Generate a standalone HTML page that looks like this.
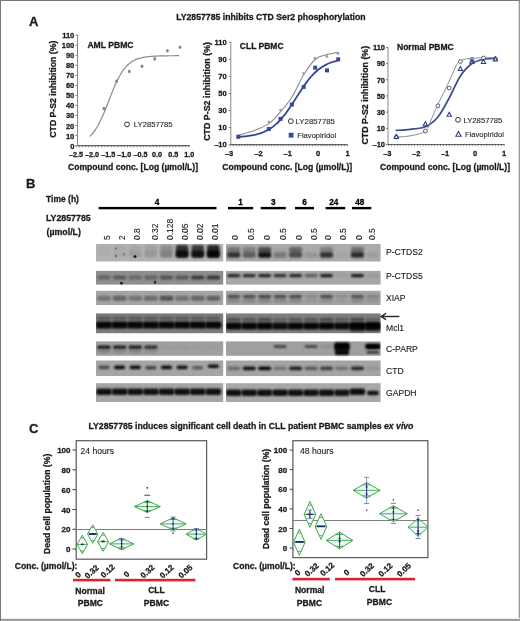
<!DOCTYPE html><html><head><meta charset="utf-8"><style>html,body{margin:0;padding:0;background:#fff;width:520px;height:621px;overflow:hidden;}svg{display:block;font-family:"Liberation Sans",sans-serif;filter:blur(0.35px);}</style></head><body><svg width="520" height="621" viewBox="0 0 520 621" font-family="Liberation Sans, sans-serif">
<defs><filter id="b1" x="-50%" y="-50%" width="200%" height="200%"><feGaussianBlur stdDeviation="1.1"/></filter><filter id="b2" x="-50%" y="-50%" width="200%" height="200%"><feGaussianBlur stdDeviation="0.95"/></filter><filter id="b3" x="-50%" y="-50%" width="200%" height="200%"><feGaussianBlur stdDeviation="0.4"/></filter></defs>
<rect x="0" y="0" width="520" height="621" fill="#fff"/>
<text x="29.10" y="26.08" font-size="13" font-weight="bold" text-anchor="start" fill="#1a1a1a" stroke="#1a1a1a" stroke-width="0.28" >A</text>
<text x="176.20" y="20.43" font-size="8.7" font-weight="bold" text-anchor="start" fill="#1a1a1a" stroke="#1a1a1a" stroke-width="0.28" >LY2857785 inhibits CTD Ser2 phosphorylation</text>
<line x1="77.50" y1="34.70" x2="77.50" y2="145.60" stroke="#8a8a8a" stroke-width="1" />
<line x1="77.50" y1="145.60" x2="190.00" y2="145.60" stroke="#606060" stroke-width="1.1" />
<line x1="75.50" y1="145.60" x2="77.50" y2="145.60" stroke="#7a7a7a" stroke-width="1" />
<text x="74.30" y="148.60" font-size="7.5" font-weight="bold" text-anchor="end" fill="#1a1a1a" stroke="#1a1a1a" stroke-width="0.28" >0</text>
<line x1="75.50" y1="135.56" x2="77.50" y2="135.56" stroke="#7a7a7a" stroke-width="1" />
<text x="74.30" y="138.56" font-size="7.5" font-weight="bold" text-anchor="end" fill="#1a1a1a" stroke="#1a1a1a" stroke-width="0.28" >10</text>
<line x1="75.50" y1="125.53" x2="77.50" y2="125.53" stroke="#7a7a7a" stroke-width="1" />
<text x="74.30" y="128.53" font-size="7.5" font-weight="bold" text-anchor="end" fill="#1a1a1a" stroke="#1a1a1a" stroke-width="0.28" >20</text>
<line x1="75.50" y1="115.49" x2="77.50" y2="115.49" stroke="#7a7a7a" stroke-width="1" />
<text x="74.30" y="118.49" font-size="7.5" font-weight="bold" text-anchor="end" fill="#1a1a1a" stroke="#1a1a1a" stroke-width="0.28" >30</text>
<line x1="75.50" y1="105.46" x2="77.50" y2="105.46" stroke="#7a7a7a" stroke-width="1" />
<text x="74.30" y="108.46" font-size="7.5" font-weight="bold" text-anchor="end" fill="#1a1a1a" stroke="#1a1a1a" stroke-width="0.28" >40</text>
<line x1="75.50" y1="95.42" x2="77.50" y2="95.42" stroke="#7a7a7a" stroke-width="1" />
<text x="74.30" y="98.42" font-size="7.5" font-weight="bold" text-anchor="end" fill="#1a1a1a" stroke="#1a1a1a" stroke-width="0.28" >50</text>
<line x1="75.50" y1="85.38" x2="77.50" y2="85.38" stroke="#7a7a7a" stroke-width="1" />
<text x="74.30" y="88.38" font-size="7.5" font-weight="bold" text-anchor="end" fill="#1a1a1a" stroke="#1a1a1a" stroke-width="0.28" >60</text>
<line x1="75.50" y1="75.35" x2="77.50" y2="75.35" stroke="#7a7a7a" stroke-width="1" />
<text x="74.30" y="78.35" font-size="7.5" font-weight="bold" text-anchor="end" fill="#1a1a1a" stroke="#1a1a1a" stroke-width="0.28" >70</text>
<line x1="75.50" y1="65.31" x2="77.50" y2="65.31" stroke="#7a7a7a" stroke-width="1" />
<text x="74.30" y="68.31" font-size="7.5" font-weight="bold" text-anchor="end" fill="#1a1a1a" stroke="#1a1a1a" stroke-width="0.28" >80</text>
<line x1="75.50" y1="55.28" x2="77.50" y2="55.28" stroke="#7a7a7a" stroke-width="1" />
<text x="74.30" y="58.28" font-size="7.5" font-weight="bold" text-anchor="end" fill="#1a1a1a" stroke="#1a1a1a" stroke-width="0.28" >90</text>
<line x1="75.50" y1="45.24" x2="77.50" y2="45.24" stroke="#7a7a7a" stroke-width="1" />
<text x="74.30" y="48.24" font-size="7.5" font-weight="bold" text-anchor="end" fill="#1a1a1a" stroke="#1a1a1a" stroke-width="0.28" >100</text>
<line x1="75.50" y1="35.20" x2="77.50" y2="35.20" stroke="#7a7a7a" stroke-width="1" />
<text x="74.30" y="38.20" font-size="7.5" font-weight="bold" text-anchor="end" fill="#1a1a1a" stroke="#1a1a1a" stroke-width="0.28" >110</text>
<line x1="76.00" y1="145.60" x2="76.00" y2="147.40" stroke="#606060" stroke-width="0.7" />
<line x1="79.22" y1="145.60" x2="79.22" y2="147.40" stroke="#606060" stroke-width="0.7" />
<line x1="82.44" y1="145.60" x2="82.44" y2="147.40" stroke="#606060" stroke-width="0.7" />
<line x1="85.66" y1="145.60" x2="85.66" y2="147.40" stroke="#606060" stroke-width="0.7" />
<line x1="88.88" y1="145.60" x2="88.88" y2="147.40" stroke="#606060" stroke-width="0.7" />
<line x1="92.10" y1="145.60" x2="92.10" y2="147.40" stroke="#606060" stroke-width="0.7" />
<line x1="95.32" y1="145.60" x2="95.32" y2="147.40" stroke="#606060" stroke-width="0.7" />
<line x1="98.54" y1="145.60" x2="98.54" y2="147.40" stroke="#606060" stroke-width="0.7" />
<line x1="101.76" y1="145.60" x2="101.76" y2="147.40" stroke="#606060" stroke-width="0.7" />
<line x1="104.98" y1="145.60" x2="104.98" y2="147.40" stroke="#606060" stroke-width="0.7" />
<line x1="108.20" y1="145.60" x2="108.20" y2="147.40" stroke="#606060" stroke-width="0.7" />
<line x1="111.42" y1="145.60" x2="111.42" y2="147.40" stroke="#606060" stroke-width="0.7" />
<line x1="114.64" y1="145.60" x2="114.64" y2="147.40" stroke="#606060" stroke-width="0.7" />
<line x1="117.86" y1="145.60" x2="117.86" y2="147.40" stroke="#606060" stroke-width="0.7" />
<line x1="121.08" y1="145.60" x2="121.08" y2="147.40" stroke="#606060" stroke-width="0.7" />
<line x1="124.30" y1="145.60" x2="124.30" y2="147.40" stroke="#606060" stroke-width="0.7" />
<line x1="127.52" y1="145.60" x2="127.52" y2="147.40" stroke="#606060" stroke-width="0.7" />
<line x1="130.74" y1="145.60" x2="130.74" y2="147.40" stroke="#606060" stroke-width="0.7" />
<line x1="133.96" y1="145.60" x2="133.96" y2="147.40" stroke="#606060" stroke-width="0.7" />
<line x1="137.18" y1="145.60" x2="137.18" y2="147.40" stroke="#606060" stroke-width="0.7" />
<line x1="140.40" y1="145.60" x2="140.40" y2="147.40" stroke="#606060" stroke-width="0.7" />
<line x1="143.62" y1="145.60" x2="143.62" y2="147.40" stroke="#606060" stroke-width="0.7" />
<line x1="146.84" y1="145.60" x2="146.84" y2="147.40" stroke="#606060" stroke-width="0.7" />
<line x1="150.06" y1="145.60" x2="150.06" y2="147.40" stroke="#606060" stroke-width="0.7" />
<line x1="153.28" y1="145.60" x2="153.28" y2="147.40" stroke="#606060" stroke-width="0.7" />
<line x1="156.50" y1="145.60" x2="156.50" y2="147.40" stroke="#606060" stroke-width="0.7" />
<line x1="159.72" y1="145.60" x2="159.72" y2="147.40" stroke="#606060" stroke-width="0.7" />
<line x1="162.94" y1="145.60" x2="162.94" y2="147.40" stroke="#606060" stroke-width="0.7" />
<line x1="166.16" y1="145.60" x2="166.16" y2="147.40" stroke="#606060" stroke-width="0.7" />
<line x1="169.38" y1="145.60" x2="169.38" y2="147.40" stroke="#606060" stroke-width="0.7" />
<line x1="172.60" y1="145.60" x2="172.60" y2="147.40" stroke="#606060" stroke-width="0.7" />
<line x1="175.82" y1="145.60" x2="175.82" y2="147.40" stroke="#606060" stroke-width="0.7" />
<line x1="179.04" y1="145.60" x2="179.04" y2="147.40" stroke="#606060" stroke-width="0.7" />
<line x1="182.26" y1="145.60" x2="182.26" y2="147.40" stroke="#606060" stroke-width="0.7" />
<line x1="185.48" y1="145.60" x2="185.48" y2="147.40" stroke="#606060" stroke-width="0.7" />
<line x1="188.70" y1="145.60" x2="188.70" y2="147.40" stroke="#606060" stroke-width="0.7" />
<text x="76.00" y="156.99" font-size="7.2" font-weight="bold" text-anchor="middle" fill="#1a1a1a" stroke="#1a1a1a" stroke-width="0.28" >–2.5</text>
<text x="92.10" y="156.99" font-size="7.2" font-weight="bold" text-anchor="middle" fill="#1a1a1a" stroke="#1a1a1a" stroke-width="0.28" >–2.0</text>
<text x="108.20" y="156.99" font-size="7.2" font-weight="bold" text-anchor="middle" fill="#1a1a1a" stroke="#1a1a1a" stroke-width="0.28" >–1.5</text>
<text x="124.30" y="156.99" font-size="7.2" font-weight="bold" text-anchor="middle" fill="#1a1a1a" stroke="#1a1a1a" stroke-width="0.28" >–1.0</text>
<text x="140.40" y="156.99" font-size="7.2" font-weight="bold" text-anchor="middle" fill="#1a1a1a" stroke="#1a1a1a" stroke-width="0.28" >–0.5</text>
<text x="157.10" y="156.99" font-size="7.2" font-weight="bold" text-anchor="middle" fill="#1a1a1a" stroke="#1a1a1a" stroke-width="0.28" >0.0</text>
<text x="173.20" y="156.99" font-size="7.2" font-weight="bold" text-anchor="middle" fill="#1a1a1a" stroke="#1a1a1a" stroke-width="0.28" >0.5</text>
<text x="189.30" y="156.99" font-size="7.2" font-weight="bold" text-anchor="middle" fill="#1a1a1a" stroke="#1a1a1a" stroke-width="0.28" >1.0</text>
<text x="133.00" y="169.90" font-size="8.6" font-weight="bold" text-anchor="middle" fill="#1a1a1a" stroke="#1a1a1a" stroke-width="0.28" >Compound conc. [Log (µmol/L)]</text>
<text transform="translate(52.60,89.20) rotate(-90)" x="0" y="3.13" font-size="8.7" font-weight="bold" text-anchor="middle" fill="#1a1a1a" stroke="#1a1a1a" stroke-width="0.28">CTD P-S2 inhibition (%)</text>
<text x="87.40" y="48.20" font-size="8.6" font-weight="bold" text-anchor="start" fill="#1a1a1a" stroke="#1a1a1a" stroke-width="0.28" >AML PBMC</text>
<path d="M90.17,136.11 C90.44,135.83 91.24,135.03 91.78,134.43 C92.31,133.82 92.85,133.18 93.39,132.49 C93.92,131.81 94.46,131.08 95.00,130.29 C95.53,129.51 96.07,128.69 96.61,127.81 C97.14,126.94 97.68,126.01 98.22,125.04 C98.75,124.06 99.29,123.04 99.83,121.97 C100.36,120.90 100.90,119.78 101.44,118.62 C101.97,117.47 102.51,116.26 103.05,115.02 C103.58,113.79 104.12,112.51 104.66,111.20 C105.19,109.90 105.73,108.56 106.27,107.22 C106.80,105.87 107.34,104.49 107.88,103.12 C108.41,101.75 108.95,100.36 109.49,98.98 C110.02,97.61 110.56,96.23 111.10,94.87 C111.63,93.52 112.17,92.17 112.71,90.86 C113.24,89.55 113.78,88.25 114.32,87.00 C114.85,85.75 115.39,84.53 115.93,83.35 C116.46,82.18 117.00,81.04 117.54,79.95 C118.07,78.87 118.61,77.82 119.15,76.83 C119.68,75.84 120.22,74.89 120.76,74.00 C121.29,73.10 121.83,72.26 122.37,71.46 C122.90,70.66 123.44,69.91 123.98,69.20 C124.51,68.49 125.05,67.84 125.59,67.22 C126.12,66.60 126.66,66.03 127.20,65.49 C127.73,64.95 128.27,64.45 128.81,63.99 C129.34,63.53 129.88,63.10 130.42,62.70 C130.95,62.30 131.49,61.94 132.03,61.60 C132.56,61.26 133.10,60.95 133.64,60.66 C134.17,60.37 134.71,60.10 135.25,59.86 C135.78,59.61 136.32,59.39 136.86,59.18 C137.39,58.97 137.93,58.79 138.47,58.61 C139.00,58.44 139.54,58.28 140.08,58.13 C140.61,57.98 141.15,57.85 141.69,57.73 C142.22,57.60 142.76,57.49 143.30,57.39 C143.83,57.29 144.37,57.19 144.91,57.11 C145.44,57.02 145.98,56.94 146.52,56.87 C147.05,56.80 147.59,56.73 148.13,56.67 C148.66,56.61 149.20,56.56 149.74,56.51 C150.27,56.45 150.81,56.41 151.35,56.37 C151.88,56.32 152.42,56.29 152.96,56.25 C153.49,56.22 154.03,56.18 154.57,56.16 C155.10,56.13 155.64,56.10 156.18,56.08 C156.71,56.05 157.25,56.03 157.79,56.01 C158.32,55.99 158.86,55.97 159.40,55.95 C159.93,55.94 160.47,55.92 161.01,55.91 C161.54,55.89 162.08,55.88 162.62,55.87 C163.15,55.86 163.69,55.85 164.23,55.84 C164.76,55.83 165.30,55.82 165.84,55.81 C166.37,55.80 166.91,55.79 167.45,55.79 C167.98,55.78 168.52,55.77 169.06,55.77 C169.59,55.76 170.13,55.76 170.67,55.75 C171.20,55.75 171.74,55.74 172.28,55.74 C172.81,55.74 173.35,55.73 173.89,55.73 C174.42,55.73 174.96,55.72 175.50,55.72 C176.03,55.72 176.57,55.72 177.11,55.71 C177.64,55.71 178.45,55.71 178.72,55.71" fill="none" stroke="#8a8a8a" stroke-width="1.2" stroke-linecap="round" />
<ellipse cx="103.90" cy="108.50" rx="1.4" ry="1.8" fill="#858585"/>
<ellipse cx="116.60" cy="81.30" rx="1.4" ry="1.8" fill="#858585"/>
<ellipse cx="129.30" cy="71.60" rx="1.4" ry="1.8" fill="#858585"/>
<ellipse cx="142.00" cy="66.30" rx="1.4" ry="1.8" fill="#858585"/>
<ellipse cx="154.70" cy="58.90" rx="1.4" ry="1.8" fill="#858585"/>
<ellipse cx="167.40" cy="50.80" rx="1.4" ry="1.8" fill="#858585"/>
<ellipse cx="180.00" cy="47.30" rx="1.4" ry="1.8" fill="#858585"/>
<circle cx="127" cy="124.4" r="2.4" fill="none" stroke="#333" stroke-width="1"/>
<text x="133.80" y="127.37" font-size="7.7" font-weight="normal" text-anchor="start" fill="#2a2a2a" stroke="#2a2a2a" stroke-width="0.12" >LY2857785</text>
<line x1="230.80" y1="41.80" x2="230.80" y2="144.60" stroke="#8a8a8a" stroke-width="1" />
<line x1="230.80" y1="144.60" x2="347.50" y2="144.60" stroke="#606060" stroke-width="1.1" />
<line x1="228.80" y1="144.60" x2="230.80" y2="144.60" stroke="#7a7a7a" stroke-width="1" />
<text x="226.70" y="147.00" font-size="7.5" font-weight="bold" text-anchor="end" fill="#1a1a1a" stroke="#1a1a1a" stroke-width="0.28" >–10</text>
<line x1="228.80" y1="127.55" x2="230.80" y2="127.55" stroke="#7a7a7a" stroke-width="1" />
<text x="226.70" y="129.95" font-size="7.5" font-weight="bold" text-anchor="end" fill="#1a1a1a" stroke="#1a1a1a" stroke-width="0.28" >10</text>
<line x1="228.80" y1="110.50" x2="230.80" y2="110.50" stroke="#7a7a7a" stroke-width="1" />
<text x="226.70" y="112.90" font-size="7.5" font-weight="bold" text-anchor="end" fill="#1a1a1a" stroke="#1a1a1a" stroke-width="0.28" >30</text>
<line x1="228.80" y1="93.45" x2="230.80" y2="93.45" stroke="#7a7a7a" stroke-width="1" />
<text x="226.70" y="95.85" font-size="7.5" font-weight="bold" text-anchor="end" fill="#1a1a1a" stroke="#1a1a1a" stroke-width="0.28" >50</text>
<line x1="228.80" y1="76.40" x2="230.80" y2="76.40" stroke="#7a7a7a" stroke-width="1" />
<text x="226.70" y="78.80" font-size="7.5" font-weight="bold" text-anchor="end" fill="#1a1a1a" stroke="#1a1a1a" stroke-width="0.28" >70</text>
<line x1="228.80" y1="59.35" x2="230.80" y2="59.35" stroke="#7a7a7a" stroke-width="1" />
<text x="226.70" y="61.75" font-size="7.5" font-weight="bold" text-anchor="end" fill="#1a1a1a" stroke="#1a1a1a" stroke-width="0.28" >90</text>
<line x1="228.80" y1="42.30" x2="230.80" y2="42.30" stroke="#7a7a7a" stroke-width="1" />
<text x="226.70" y="44.70" font-size="7.5" font-weight="bold" text-anchor="end" fill="#1a1a1a" stroke="#1a1a1a" stroke-width="0.28" >110</text>
<line x1="230.30" y1="144.60" x2="230.30" y2="146.40" stroke="#606060" stroke-width="0.7" />
<line x1="233.23" y1="144.60" x2="233.23" y2="146.40" stroke="#606060" stroke-width="0.7" />
<line x1="236.16" y1="144.60" x2="236.16" y2="146.40" stroke="#606060" stroke-width="0.7" />
<line x1="239.09" y1="144.60" x2="239.09" y2="146.40" stroke="#606060" stroke-width="0.7" />
<line x1="242.02" y1="144.60" x2="242.02" y2="146.40" stroke="#606060" stroke-width="0.7" />
<line x1="244.95" y1="144.60" x2="244.95" y2="146.40" stroke="#606060" stroke-width="0.7" />
<line x1="247.88" y1="144.60" x2="247.88" y2="146.40" stroke="#606060" stroke-width="0.7" />
<line x1="250.81" y1="144.60" x2="250.81" y2="146.40" stroke="#606060" stroke-width="0.7" />
<line x1="253.74" y1="144.60" x2="253.74" y2="146.40" stroke="#606060" stroke-width="0.7" />
<line x1="256.67" y1="144.60" x2="256.67" y2="146.40" stroke="#606060" stroke-width="0.7" />
<line x1="259.60" y1="144.60" x2="259.60" y2="146.40" stroke="#606060" stroke-width="0.7" />
<line x1="262.53" y1="144.60" x2="262.53" y2="146.40" stroke="#606060" stroke-width="0.7" />
<line x1="265.46" y1="144.60" x2="265.46" y2="146.40" stroke="#606060" stroke-width="0.7" />
<line x1="268.39" y1="144.60" x2="268.39" y2="146.40" stroke="#606060" stroke-width="0.7" />
<line x1="271.32" y1="144.60" x2="271.32" y2="146.40" stroke="#606060" stroke-width="0.7" />
<line x1="274.25" y1="144.60" x2="274.25" y2="146.40" stroke="#606060" stroke-width="0.7" />
<line x1="277.18" y1="144.60" x2="277.18" y2="146.40" stroke="#606060" stroke-width="0.7" />
<line x1="280.11" y1="144.60" x2="280.11" y2="146.40" stroke="#606060" stroke-width="0.7" />
<line x1="283.04" y1="144.60" x2="283.04" y2="146.40" stroke="#606060" stroke-width="0.7" />
<line x1="285.97" y1="144.60" x2="285.97" y2="146.40" stroke="#606060" stroke-width="0.7" />
<line x1="288.90" y1="144.60" x2="288.90" y2="146.40" stroke="#606060" stroke-width="0.7" />
<line x1="291.83" y1="144.60" x2="291.83" y2="146.40" stroke="#606060" stroke-width="0.7" />
<line x1="294.76" y1="144.60" x2="294.76" y2="146.40" stroke="#606060" stroke-width="0.7" />
<line x1="297.69" y1="144.60" x2="297.69" y2="146.40" stroke="#606060" stroke-width="0.7" />
<line x1="300.62" y1="144.60" x2="300.62" y2="146.40" stroke="#606060" stroke-width="0.7" />
<line x1="303.55" y1="144.60" x2="303.55" y2="146.40" stroke="#606060" stroke-width="0.7" />
<line x1="306.48" y1="144.60" x2="306.48" y2="146.40" stroke="#606060" stroke-width="0.7" />
<line x1="309.41" y1="144.60" x2="309.41" y2="146.40" stroke="#606060" stroke-width="0.7" />
<line x1="312.34" y1="144.60" x2="312.34" y2="146.40" stroke="#606060" stroke-width="0.7" />
<line x1="315.27" y1="144.60" x2="315.27" y2="146.40" stroke="#606060" stroke-width="0.7" />
<line x1="318.20" y1="144.60" x2="318.20" y2="146.40" stroke="#606060" stroke-width="0.7" />
<line x1="321.13" y1="144.60" x2="321.13" y2="146.40" stroke="#606060" stroke-width="0.7" />
<line x1="324.06" y1="144.60" x2="324.06" y2="146.40" stroke="#606060" stroke-width="0.7" />
<line x1="326.99" y1="144.60" x2="326.99" y2="146.40" stroke="#606060" stroke-width="0.7" />
<line x1="329.92" y1="144.60" x2="329.92" y2="146.40" stroke="#606060" stroke-width="0.7" />
<line x1="332.85" y1="144.60" x2="332.85" y2="146.40" stroke="#606060" stroke-width="0.7" />
<line x1="335.78" y1="144.60" x2="335.78" y2="146.40" stroke="#606060" stroke-width="0.7" />
<line x1="338.71" y1="144.60" x2="338.71" y2="146.40" stroke="#606060" stroke-width="0.7" />
<line x1="341.64" y1="144.60" x2="341.64" y2="146.40" stroke="#606060" stroke-width="0.7" />
<line x1="344.57" y1="144.60" x2="344.57" y2="146.40" stroke="#606060" stroke-width="0.7" />
<line x1="347.50" y1="144.60" x2="347.50" y2="146.40" stroke="#606060" stroke-width="0.7" />
<text x="229.10" y="155.70" font-size="7.5" font-weight="bold" text-anchor="middle" fill="#1a1a1a" stroke="#1a1a1a" stroke-width="0.28" >–3</text>
<text x="258.40" y="155.70" font-size="7.5" font-weight="bold" text-anchor="middle" fill="#1a1a1a" stroke="#1a1a1a" stroke-width="0.28" >–2</text>
<text x="287.70" y="155.70" font-size="7.5" font-weight="bold" text-anchor="middle" fill="#1a1a1a" stroke="#1a1a1a" stroke-width="0.28" >–1</text>
<text x="318.20" y="155.70" font-size="7.5" font-weight="bold" text-anchor="middle" fill="#1a1a1a" stroke="#1a1a1a" stroke-width="0.28" >0</text>
<text x="347.50" y="155.70" font-size="7.5" font-weight="bold" text-anchor="middle" fill="#1a1a1a" stroke="#1a1a1a" stroke-width="0.28" >1</text>
<text x="287.20" y="170.10" font-size="8.6" font-weight="bold" text-anchor="middle" fill="#1a1a1a" stroke="#1a1a1a" stroke-width="0.28" >Compound conc. [Log (µmol/L)]</text>
<text transform="translate(206.40,91.40) rotate(-90)" x="0" y="3.19" font-size="8.85" font-weight="bold" text-anchor="middle" fill="#1a1a1a" stroke="#1a1a1a" stroke-width="0.28">CTD P-S2 inhibition (%)</text>
<text x="239.80" y="49.26" font-size="8.5" font-weight="bold" text-anchor="start" fill="#1a1a1a" stroke="#1a1a1a" stroke-width="0.28" >CLL PBMC</text>
<path d="M238.30,135.10 C240.75,134.42 247.88,132.92 253.00,131.00 C258.12,129.08 264.42,126.80 269.00,123.60 C273.58,120.40 276.67,116.23 280.50,111.80 C284.33,107.37 288.15,103.13 292.00,97.00 C295.85,90.87 299.75,81.25 303.60,75.00 C307.45,68.75 311.23,62.90 315.10,59.50 C318.97,56.10 322.98,55.78 326.80,54.60 C330.62,53.42 336.13,52.77 338.00,52.40" fill="none" stroke="#8c8c8c" stroke-width="1.1" stroke-linecap="round" />
<rect x="267.80" y="120.80" width="2.4" height="2.4" fill="#9a9a9a" transform="rotate(45 269.00 122.00)"/>
<rect x="279.30" y="109.00" width="2.4" height="2.4" fill="#9a9a9a" transform="rotate(45 280.50 110.20)"/>
<rect x="302.40" y="72.20" width="2.4" height="2.4" fill="#9a9a9a" transform="rotate(45 303.60 73.40)"/>
<rect x="313.90" y="57.00" width="2.4" height="2.4" fill="#9a9a9a" transform="rotate(45 315.10 58.20)"/>
<rect x="325.60" y="55.30" width="2.4" height="2.4" fill="#9a9a9a" transform="rotate(45 326.80 56.50)"/>
<rect x="336.80" y="52.30" width="2.4" height="2.4" fill="#9a9a9a" transform="rotate(45 338.00 53.50)"/>
<path d="M238.21,136.95 C238.46,136.93 239.19,136.88 239.68,136.85 C240.16,136.81 240.65,136.78 241.14,136.74 C241.63,136.70 242.12,136.66 242.61,136.61 C243.09,136.57 243.58,136.52 244.07,136.47 C244.56,136.42 245.05,136.37 245.54,136.32 C246.02,136.26 246.51,136.20 247.00,136.14 C247.49,136.08 247.98,136.01 248.47,135.94 C248.95,135.88 249.44,135.80 249.93,135.73 C250.42,135.65 250.91,135.57 251.40,135.48 C251.88,135.40 252.37,135.31 252.86,135.21 C253.35,135.12 253.84,135.02 254.33,134.91 C254.81,134.80 255.30,134.69 255.79,134.57 C256.28,134.45 256.77,134.33 257.26,134.20 C257.74,134.07 258.23,133.93 258.72,133.78 C259.21,133.64 259.70,133.49 260.19,133.32 C260.67,133.16 261.16,132.99 261.65,132.81 C262.14,132.63 262.63,132.45 263.12,132.25 C263.60,132.05 264.09,131.84 264.58,131.63 C265.07,131.41 265.56,131.18 266.05,130.94 C266.53,130.70 267.02,130.45 267.51,130.18 C268.00,129.92 268.49,129.64 268.98,129.35 C269.46,129.07 269.95,128.76 270.44,128.45 C270.93,128.13 271.42,127.80 271.91,127.45 C272.39,127.11 272.88,126.75 273.37,126.37 C273.86,126.00 274.35,125.61 274.84,125.20 C275.32,124.79 275.81,124.37 276.30,123.93 C276.79,123.49 277.28,123.04 277.77,122.56 C278.25,122.09 278.74,121.60 279.23,121.09 C279.72,120.58 280.21,120.06 280.70,119.52 C281.18,118.98 281.67,118.42 282.16,117.85 C282.65,117.27 283.14,116.68 283.63,116.07 C284.11,115.47 284.60,114.84 285.09,114.20 C285.58,113.56 286.07,112.91 286.56,112.24 C287.04,111.58 287.53,110.89 288.02,110.20 C288.51,109.51 289.00,108.80 289.49,108.08 C289.97,107.36 290.46,106.63 290.95,105.90 C291.44,105.16 291.93,104.42 292.42,103.66 C292.90,102.91 293.39,102.15 293.88,101.39 C294.37,100.63 294.86,99.86 295.35,99.10 C295.83,98.33 296.32,97.56 296.81,96.79 C297.30,96.02 297.79,95.25 298.28,94.49 C298.76,93.73 299.25,92.97 299.74,92.21 C300.23,91.46 300.72,90.71 301.21,89.97 C301.69,89.23 302.18,88.50 302.67,87.78 C303.16,87.05 303.65,86.34 304.14,85.64 C304.62,84.95 305.11,84.26 305.60,83.58 C306.09,82.91 306.58,82.25 307.07,81.61 C307.55,80.96 308.04,80.33 308.53,79.72 C309.02,79.11 309.51,78.51 310.00,77.93 C310.48,77.34 310.97,76.78 311.46,76.23 C311.95,75.68 312.44,75.15 312.93,74.64 C313.41,74.13 313.90,73.63 314.39,73.15 C314.88,72.67 315.37,72.21 315.86,71.76 C316.34,71.31 316.83,70.88 317.32,70.47 C317.81,70.06 318.30,69.66 318.79,69.28 C319.27,68.90 319.76,68.53 320.25,68.18 C320.74,67.83 321.23,67.49 321.72,67.17 C322.20,66.85 322.69,66.54 323.18,66.25 C323.67,65.95 324.16,65.67 324.65,65.40 C325.13,65.13 325.62,64.88 326.11,64.63 C326.60,64.39 327.09,64.15 327.58,63.93 C328.06,63.71 328.55,63.50 329.04,63.30 C329.53,63.09 330.02,62.90 330.51,62.72 C330.99,62.54 331.48,62.36 331.97,62.20 C332.46,62.03 332.95,61.88 333.44,61.73 C333.92,61.58 334.41,61.44 334.90,61.31 C335.39,61.17 335.88,61.04 336.37,60.92 C336.85,60.80 337.59,60.64 337.83,60.58" fill="none" stroke="#33449a" stroke-width="1.75" stroke-linecap="round" />
<rect x="236.30" y="134.80" width="4.0" height="4.0" fill="#36479e"/>
<rect x="266.80" y="127.00" width="4.0" height="4.0" fill="#36479e"/>
<rect x="278.50" y="116.90" width="4.0" height="4.0" fill="#36479e"/>
<rect x="289.90" y="102.50" width="4.0" height="4.0" fill="#36479e"/>
<rect x="301.70" y="84.90" width="4.0" height="4.0" fill="#36479e"/>
<rect x="313.20" y="65.70" width="4.0" height="4.0" fill="#36479e"/>
<rect x="325.00" y="68.40" width="4.0" height="4.0" fill="#36479e"/>
<rect x="336.20" y="57.30" width="4.0" height="4.0" fill="#36479e"/>
<circle cx="290.8" cy="121.2" r="2.4" fill="none" stroke="#333" stroke-width="1"/>
<text x="295.60" y="124.21" font-size="7.8" font-weight="normal" text-anchor="start" fill="#2a2a2a" stroke="#2a2a2a" stroke-width="0.12" >LY2857785</text>
<rect x="288.7" y="132.8" width="4.8" height="4.8" fill="#36479e"/>
<text x="297.30" y="138.14" font-size="7.6" font-weight="normal" text-anchor="start" fill="#2a2a2a" stroke="#2a2a2a" stroke-width="0.12" >Flavopiridol</text>
<line x1="388.00" y1="46.92" x2="388.00" y2="144.50" stroke="#8a8a8a" stroke-width="1" />
<line x1="388.00" y1="144.50" x2="504.60" y2="144.50" stroke="#606060" stroke-width="1.1" />
<line x1="386.00" y1="144.50" x2="388.00" y2="144.50" stroke="#7a7a7a" stroke-width="1" />
<text x="385.00" y="147.30" font-size="7.5" font-weight="bold" text-anchor="end" fill="#1a1a1a" stroke="#1a1a1a" stroke-width="0.28" >–10</text>
<line x1="386.00" y1="128.32" x2="388.00" y2="128.32" stroke="#7a7a7a" stroke-width="1" />
<text x="385.00" y="131.12" font-size="7.5" font-weight="bold" text-anchor="end" fill="#1a1a1a" stroke="#1a1a1a" stroke-width="0.28" >10</text>
<line x1="386.00" y1="112.14" x2="388.00" y2="112.14" stroke="#7a7a7a" stroke-width="1" />
<text x="385.00" y="114.94" font-size="7.5" font-weight="bold" text-anchor="end" fill="#1a1a1a" stroke="#1a1a1a" stroke-width="0.28" >30</text>
<line x1="386.00" y1="95.96" x2="388.00" y2="95.96" stroke="#7a7a7a" stroke-width="1" />
<text x="385.00" y="98.76" font-size="7.5" font-weight="bold" text-anchor="end" fill="#1a1a1a" stroke="#1a1a1a" stroke-width="0.28" >50</text>
<line x1="386.00" y1="79.78" x2="388.00" y2="79.78" stroke="#7a7a7a" stroke-width="1" />
<text x="385.00" y="82.58" font-size="7.5" font-weight="bold" text-anchor="end" fill="#1a1a1a" stroke="#1a1a1a" stroke-width="0.28" >70</text>
<line x1="386.00" y1="63.60" x2="388.00" y2="63.60" stroke="#7a7a7a" stroke-width="1" />
<text x="385.00" y="66.40" font-size="7.5" font-weight="bold" text-anchor="end" fill="#1a1a1a" stroke="#1a1a1a" stroke-width="0.28" >90</text>
<line x1="386.00" y1="47.42" x2="388.00" y2="47.42" stroke="#7a7a7a" stroke-width="1" />
<text x="385.00" y="50.22" font-size="7.5" font-weight="bold" text-anchor="end" fill="#1a1a1a" stroke="#1a1a1a" stroke-width="0.28" >110</text>
<line x1="388.50" y1="144.50" x2="388.50" y2="146.30" stroke="#606060" stroke-width="0.7" />
<line x1="391.39" y1="144.50" x2="391.39" y2="146.30" stroke="#606060" stroke-width="0.7" />
<line x1="394.28" y1="144.50" x2="394.28" y2="146.30" stroke="#606060" stroke-width="0.7" />
<line x1="397.17" y1="144.50" x2="397.17" y2="146.30" stroke="#606060" stroke-width="0.7" />
<line x1="400.06" y1="144.50" x2="400.06" y2="146.30" stroke="#606060" stroke-width="0.7" />
<line x1="402.95" y1="144.50" x2="402.95" y2="146.30" stroke="#606060" stroke-width="0.7" />
<line x1="405.84" y1="144.50" x2="405.84" y2="146.30" stroke="#606060" stroke-width="0.7" />
<line x1="408.73" y1="144.50" x2="408.73" y2="146.30" stroke="#606060" stroke-width="0.7" />
<line x1="411.62" y1="144.50" x2="411.62" y2="146.30" stroke="#606060" stroke-width="0.7" />
<line x1="414.51" y1="144.50" x2="414.51" y2="146.30" stroke="#606060" stroke-width="0.7" />
<line x1="417.40" y1="144.50" x2="417.40" y2="146.30" stroke="#606060" stroke-width="0.7" />
<line x1="420.29" y1="144.50" x2="420.29" y2="146.30" stroke="#606060" stroke-width="0.7" />
<line x1="423.18" y1="144.50" x2="423.18" y2="146.30" stroke="#606060" stroke-width="0.7" />
<line x1="426.07" y1="144.50" x2="426.07" y2="146.30" stroke="#606060" stroke-width="0.7" />
<line x1="428.96" y1="144.50" x2="428.96" y2="146.30" stroke="#606060" stroke-width="0.7" />
<line x1="431.85" y1="144.50" x2="431.85" y2="146.30" stroke="#606060" stroke-width="0.7" />
<line x1="434.74" y1="144.50" x2="434.74" y2="146.30" stroke="#606060" stroke-width="0.7" />
<line x1="437.63" y1="144.50" x2="437.63" y2="146.30" stroke="#606060" stroke-width="0.7" />
<line x1="440.52" y1="144.50" x2="440.52" y2="146.30" stroke="#606060" stroke-width="0.7" />
<line x1="443.41" y1="144.50" x2="443.41" y2="146.30" stroke="#606060" stroke-width="0.7" />
<line x1="446.30" y1="144.50" x2="446.30" y2="146.30" stroke="#606060" stroke-width="0.7" />
<line x1="449.19" y1="144.50" x2="449.19" y2="146.30" stroke="#606060" stroke-width="0.7" />
<line x1="452.08" y1="144.50" x2="452.08" y2="146.30" stroke="#606060" stroke-width="0.7" />
<line x1="454.97" y1="144.50" x2="454.97" y2="146.30" stroke="#606060" stroke-width="0.7" />
<line x1="457.86" y1="144.50" x2="457.86" y2="146.30" stroke="#606060" stroke-width="0.7" />
<line x1="460.75" y1="144.50" x2="460.75" y2="146.30" stroke="#606060" stroke-width="0.7" />
<line x1="463.64" y1="144.50" x2="463.64" y2="146.30" stroke="#606060" stroke-width="0.7" />
<line x1="466.53" y1="144.50" x2="466.53" y2="146.30" stroke="#606060" stroke-width="0.7" />
<line x1="469.42" y1="144.50" x2="469.42" y2="146.30" stroke="#606060" stroke-width="0.7" />
<line x1="472.31" y1="144.50" x2="472.31" y2="146.30" stroke="#606060" stroke-width="0.7" />
<line x1="475.20" y1="144.50" x2="475.20" y2="146.30" stroke="#606060" stroke-width="0.7" />
<line x1="478.09" y1="144.50" x2="478.09" y2="146.30" stroke="#606060" stroke-width="0.7" />
<line x1="480.98" y1="144.50" x2="480.98" y2="146.30" stroke="#606060" stroke-width="0.7" />
<line x1="483.87" y1="144.50" x2="483.87" y2="146.30" stroke="#606060" stroke-width="0.7" />
<line x1="486.76" y1="144.50" x2="486.76" y2="146.30" stroke="#606060" stroke-width="0.7" />
<line x1="489.65" y1="144.50" x2="489.65" y2="146.30" stroke="#606060" stroke-width="0.7" />
<line x1="492.54" y1="144.50" x2="492.54" y2="146.30" stroke="#606060" stroke-width="0.7" />
<line x1="495.43" y1="144.50" x2="495.43" y2="146.30" stroke="#606060" stroke-width="0.7" />
<line x1="498.32" y1="144.50" x2="498.32" y2="146.30" stroke="#606060" stroke-width="0.7" />
<line x1="501.21" y1="144.50" x2="501.21" y2="146.30" stroke="#606060" stroke-width="0.7" />
<line x1="504.10" y1="144.50" x2="504.10" y2="146.30" stroke="#606060" stroke-width="0.7" />
<text x="387.30" y="155.70" font-size="7.5" font-weight="bold" text-anchor="middle" fill="#1a1a1a" stroke="#1a1a1a" stroke-width="0.28" >–3</text>
<text x="416.20" y="155.70" font-size="7.5" font-weight="bold" text-anchor="middle" fill="#1a1a1a" stroke="#1a1a1a" stroke-width="0.28" >–2</text>
<text x="445.10" y="155.70" font-size="7.5" font-weight="bold" text-anchor="middle" fill="#1a1a1a" stroke="#1a1a1a" stroke-width="0.28" >–1</text>
<text x="475.20" y="155.70" font-size="7.5" font-weight="bold" text-anchor="middle" fill="#1a1a1a" stroke="#1a1a1a" stroke-width="0.28" >0</text>
<text x="504.10" y="155.70" font-size="7.5" font-weight="bold" text-anchor="middle" fill="#1a1a1a" stroke="#1a1a1a" stroke-width="0.28" >1</text>
<text x="445.00" y="170.10" font-size="8.6" font-weight="bold" text-anchor="middle" fill="#1a1a1a" stroke="#1a1a1a" stroke-width="0.28" >Compound conc. [Log (µmol/L)]</text>
<text transform="translate(364.40,95.20) rotate(-90)" x="0" y="3.19" font-size="8.85" font-weight="bold" text-anchor="middle" fill="#1a1a1a" stroke="#1a1a1a" stroke-width="0.28">CTD P-S2 inhibition (%)</text>
<text x="397.00" y="50.16" font-size="8.5" font-weight="bold" text-anchor="start" fill="#1a1a1a" stroke="#1a1a1a" stroke-width="0.28" >Normal PBMC</text>
<path d="M396.30,130.40 C398.58,130.22 405.15,129.90 410.00,129.30 C414.85,128.70 420.75,128.85 425.40,126.80 C430.05,124.75 433.93,121.80 437.90,117.00 C441.87,112.20 445.45,104.83 449.20,98.00 C452.95,91.17 456.60,81.75 460.40,76.00 C464.20,70.25 468.15,66.27 472.00,63.50 C475.85,60.73 479.60,60.25 483.50,59.40 C487.40,58.55 493.42,58.57 495.40,58.40" fill="none" stroke="#3a4a90" stroke-width="1.7" stroke-linecap="round" />
<path d="M396.30,137.30 C398.92,137.00 407.15,136.55 412.00,135.50 C416.85,134.45 422.15,133.75 425.40,131.00 C428.65,128.25 429.53,123.20 431.50,119.00 C433.47,114.80 434.78,110.97 437.20,105.80 C439.62,100.63 443.53,93.13 446.00,88.00 C448.47,82.87 450.08,79.08 452.00,75.00 C453.92,70.92 455.50,66.08 457.50,63.50 C459.50,60.92 461.58,60.37 464.00,59.50 C466.42,58.63 468.75,58.58 472.00,58.30 C475.25,58.02 479.60,57.92 483.50,57.80 C487.40,57.68 493.42,57.63 495.40,57.60" fill="none" stroke="#8a8a8a" stroke-width="1.0" stroke-linecap="round" />
<circle cx="396.30" cy="137.00" r="1.9" fill="#fff" stroke="#4a4a5a" stroke-width="0.9"/>
<circle cx="425.40" cy="131.00" r="1.9" fill="#fff" stroke="#4a4a5a" stroke-width="0.9"/>
<circle cx="437.90" cy="105.80" r="1.9" fill="#fff" stroke="#4a4a5a" stroke-width="0.9"/>
<circle cx="449.20" cy="88.00" r="1.9" fill="#fff" stroke="#4a4a5a" stroke-width="0.9"/>
<circle cx="460.40" cy="61.50" r="1.9" fill="#fff" stroke="#4a4a5a" stroke-width="0.9"/>
<circle cx="472.00" cy="59.60" r="1.9" fill="#fff" stroke="#4a4a5a" stroke-width="0.9"/>
<circle cx="483.50" cy="58.00" r="1.9" fill="#fff" stroke="#4a4a5a" stroke-width="0.9"/>
<circle cx="495.40" cy="58.70" r="1.9" fill="#fff" stroke="#4a4a5a" stroke-width="0.9"/>
<path d="M396.30,134.40 L398.49,138.42 L394.12,138.42 Z" fill="none" stroke="#2e3c80" stroke-width="1.05"/>
<path d="M425.40,121.70 L427.58,125.72 L423.21,125.72 Z" fill="none" stroke="#2e3c80" stroke-width="1.05"/>
<path d="M449.20,112.30 L451.38,116.32 L447.01,116.32 Z" fill="none" stroke="#2e3c80" stroke-width="1.05"/>
<path d="M460.40,66.50 L462.58,70.52 L458.21,70.52 Z" fill="none" stroke="#2e3c80" stroke-width="1.05"/>
<path d="M472.00,59.20 L474.19,63.23 L469.81,63.23 Z" fill="none" stroke="#2e3c80" stroke-width="1.05"/>
<path d="M483.50,59.50 L485.69,63.52 L481.31,63.52 Z" fill="none" stroke="#2e3c80" stroke-width="1.05"/>
<path d="M495.40,56.90 L497.58,60.93 L493.21,60.93 Z" fill="none" stroke="#2e3c80" stroke-width="1.05"/>
<circle cx="458" cy="119.8" r="2.4" fill="none" stroke="#333" stroke-width="1"/>
<text x="463.50" y="122.77" font-size="7.7" font-weight="normal" text-anchor="start" fill="#2a2a2a" stroke="#2a2a2a" stroke-width="0.12" >LY2857785</text>
<path d="M458.50,131.40 L461.16,136.30 L455.84,136.30 Z" fill="none" stroke="#2e3c80" stroke-width="1.05"/>
<text x="465.00" y="137.14" font-size="7.6" font-weight="normal" text-anchor="start" fill="#2a2a2a" stroke="#2a2a2a" stroke-width="0.12" >Flavopiridol</text>
<text x="26.00" y="188.48" font-size="13" font-weight="bold" text-anchor="start" fill="#1a1a1a" stroke="#1a1a1a" stroke-width="0.28" >B</text>
<text x="46.00" y="201.66" font-size="8.5" font-weight="bold" text-anchor="start" fill="#1a1a1a" stroke="#1a1a1a" stroke-width="0.28" >Time (h)</text>
<text x="46.00" y="220.67" font-size="8.8" font-weight="bold" text-anchor="start" fill="#1a1a1a" stroke="#1a1a1a" stroke-width="0.28" >LY2857785</text>
<text x="46.50" y="234.97" font-size="8.8" font-weight="bold" text-anchor="start" fill="#1a1a1a" stroke="#1a1a1a" stroke-width="0.28" >(µmol/L)</text>
<rect x="98.60" y="206.9" width="117.90" height="2.4" fill="#000"/>
<text x="157.00" y="205.25" font-size="8.2" font-weight="bold" text-anchor="middle" fill="#000" stroke="#000" stroke-width="0.28" >4</text>
<rect x="228.00" y="206.9" width="25.20" height="2.4" fill="#000"/>
<text x="240.60" y="205.25" font-size="8.2" font-weight="bold" text-anchor="middle" fill="#000" stroke="#000" stroke-width="0.28" >1</text>
<rect x="260.70" y="206.9" width="25.10" height="2.4" fill="#000"/>
<text x="273.20" y="205.25" font-size="8.2" font-weight="bold" text-anchor="middle" fill="#000" stroke="#000" stroke-width="0.28" >3</text>
<rect x="295.00" y="206.9" width="19.00" height="2.4" fill="#000"/>
<text x="304.50" y="205.25" font-size="8.2" font-weight="bold" text-anchor="middle" fill="#000" stroke="#000" stroke-width="0.28" >6</text>
<rect x="325.60" y="206.9" width="19.60" height="2.4" fill="#000"/>
<text x="333.80" y="205.25" font-size="8.2" font-weight="bold" text-anchor="middle" fill="#000" stroke="#000" stroke-width="0.28" >24</text>
<rect x="352.00" y="206.9" width="19.30" height="2.4" fill="#000"/>
<text x="359.80" y="205.25" font-size="8.2" font-weight="bold" text-anchor="middle" fill="#000" stroke="#000" stroke-width="0.28" >48</text>
<text transform="translate(106.70,240.10) rotate(-90)" x="0" y="3.00" font-size="8.5" font-weight="normal" text-anchor="start" fill="#222" stroke="#222" stroke-width="0.12">5</text>
<text transform="translate(122.00,240.10) rotate(-90)" x="0" y="3.00" font-size="8.5" font-weight="normal" text-anchor="start" fill="#222" stroke="#222" stroke-width="0.12">2</text>
<text transform="translate(137.00,240.10) rotate(-90)" x="0" y="3.00" font-size="8.5" font-weight="normal" text-anchor="start" fill="#222" stroke="#222" stroke-width="0.12">0.8</text>
<text transform="translate(155.00,240.10) rotate(-90)" x="0" y="3.00" font-size="8.5" font-weight="normal" text-anchor="start" fill="#222" stroke="#222" stroke-width="0.12">0.32</text>
<text transform="translate(170.40,240.10) rotate(-90)" x="0" y="3.00" font-size="8.5" font-weight="normal" text-anchor="start" fill="#222" stroke="#222" stroke-width="0.12">0.128</text>
<text transform="translate(184.70,240.10) rotate(-90)" x="0" y="3.00" font-size="8.5" font-weight="normal" text-anchor="start" fill="#222" stroke="#222" stroke-width="0.12">0.05</text>
<text transform="translate(199.60,240.10) rotate(-90)" x="0" y="3.00" font-size="8.5" font-weight="normal" text-anchor="start" fill="#222" stroke="#222" stroke-width="0.12">0.02</text>
<text transform="translate(215.00,240.10) rotate(-90)" x="0" y="3.00" font-size="8.5" font-weight="normal" text-anchor="start" fill="#222" stroke="#222" stroke-width="0.12">0.01</text>
<text transform="translate(235.00,240.10) rotate(-90)" x="0" y="3.00" font-size="8.5" font-weight="normal" text-anchor="start" fill="#222" stroke="#222" stroke-width="0.12">0</text>
<text transform="translate(251.20,240.10) rotate(-90)" x="0" y="3.00" font-size="8.5" font-weight="normal" text-anchor="start" fill="#222" stroke="#222" stroke-width="0.12">0.5</text>
<text transform="translate(266.80,240.10) rotate(-90)" x="0" y="3.00" font-size="8.5" font-weight="normal" text-anchor="start" fill="#222" stroke="#222" stroke-width="0.12">0</text>
<text transform="translate(282.70,240.10) rotate(-90)" x="0" y="3.00" font-size="8.5" font-weight="normal" text-anchor="start" fill="#222" stroke="#222" stroke-width="0.12">0.5</text>
<text transform="translate(298.50,240.10) rotate(-90)" x="0" y="3.00" font-size="8.5" font-weight="normal" text-anchor="start" fill="#222" stroke="#222" stroke-width="0.12">0</text>
<text transform="translate(314.20,240.10) rotate(-90)" x="0" y="3.00" font-size="8.5" font-weight="normal" text-anchor="start" fill="#222" stroke="#222" stroke-width="0.12">0.5</text>
<text transform="translate(327.70,240.10) rotate(-90)" x="0" y="3.00" font-size="8.5" font-weight="normal" text-anchor="start" fill="#222" stroke="#222" stroke-width="0.12">0</text>
<text transform="translate(342.80,240.10) rotate(-90)" x="0" y="3.00" font-size="8.5" font-weight="normal" text-anchor="start" fill="#222" stroke="#222" stroke-width="0.12">0.5</text>
<text transform="translate(359.20,240.10) rotate(-90)" x="0" y="3.00" font-size="8.5" font-weight="normal" text-anchor="start" fill="#222" stroke="#222" stroke-width="0.12">0</text>
<text transform="translate(372.20,240.10) rotate(-90)" x="0" y="3.00" font-size="8.5" font-weight="normal" text-anchor="start" fill="#222" stroke="#222" stroke-width="0.12">0.5</text>
<clipPath id="cl"><rect x="96" y="240" width="127.2" height="165"/><rect x="226" y="240" width="154.6" height="165"/></clipPath>
<rect x="96.0" y="244.0" width="127.20" height="17.50" fill="#b3b3b3"/>
<rect x="226.0" y="244.0" width="154.60" height="17.50" fill="#ababab"/>
<text x="386.00" y="255.40" font-size="8.6" font-weight="normal" text-anchor="start" fill="#1a1a1a" stroke="#1a1a1a" stroke-width="0.12" >P-CTDS2</text>
<rect x="96.0" y="270.9" width="127.20" height="13.70" fill="#8e8e8e"/>
<rect x="226.0" y="270.9" width="154.60" height="13.70" fill="#a6a6a6"/>
<text x="386.00" y="279.20" font-size="8.6" font-weight="normal" text-anchor="start" fill="#1a1a1a" stroke="#1a1a1a" stroke-width="0.12" >P-CTDS5</text>
<rect x="96.0" y="290.8" width="127.20" height="14.20" fill="#a4a4a4"/>
<rect x="226.0" y="290.8" width="154.60" height="14.20" fill="#a3a3a3"/>
<text x="386.00" y="300.90" font-size="8.6" font-weight="normal" text-anchor="start" fill="#1a1a1a" stroke="#1a1a1a" stroke-width="0.12" >XIAP</text>
<rect x="96.0" y="313.4" width="127.20" height="19.80" fill="#7c7c7c"/>
<rect x="226.0" y="313.4" width="154.60" height="19.80" fill="#7e7e7e"/>
<text x="386.00" y="330.50" font-size="8.6" font-weight="normal" text-anchor="start" fill="#1a1a1a" stroke="#1a1a1a" stroke-width="0.12" >Mcl1</text>
<rect x="96.0" y="341.4" width="127.20" height="14.40" fill="#a0a0a0"/>
<rect x="226.0" y="341.4" width="154.60" height="14.40" fill="#9f9f9f"/>
<text x="386.00" y="351.90" font-size="8.6" font-weight="normal" text-anchor="start" fill="#1a1a1a" stroke="#1a1a1a" stroke-width="0.12" >C-PARP</text>
<rect x="96.0" y="360.5" width="127.20" height="15.50" fill="#a5a5a5"/>
<rect x="226.0" y="360.5" width="154.60" height="15.50" fill="#a4a4a4"/>
<text x="386.00" y="373.90" font-size="8.6" font-weight="normal" text-anchor="start" fill="#1a1a1a" stroke="#1a1a1a" stroke-width="0.12" >CTD</text>
<rect x="96.0" y="383.2" width="127.20" height="18.80" fill="#a5a5a5"/>
<rect x="226.0" y="383.2" width="154.60" height="18.80" fill="#a8a8a8"/>
<text x="386.00" y="395.80" font-size="8.6" font-weight="normal" text-anchor="start" fill="#1a1a1a" stroke="#1a1a1a" stroke-width="0.12" >GAPDH</text>
<g clip-path="url(#cl)">
<rect x="97.75" y="244.90" width="12.50" height="12.60" rx="2.00" fill="#000" fill-opacity="0.03" filter="url(#b2)"/>
<rect x="113.37" y="244.90" width="12.50" height="12.60" rx="2.00" fill="#000" fill-opacity="0.05" filter="url(#b2)"/>
<rect x="128.99" y="244.90" width="12.50" height="12.60" rx="2.00" fill="#000" fill-opacity="0.06" filter="url(#b2)"/>
<rect x="144.61" y="244.90" width="12.50" height="12.60" rx="2.00" fill="#000" fill-opacity="0.10" filter="url(#b2)"/>
<rect x="160.23" y="244.90" width="12.50" height="12.60" rx="2.00" fill="#000" fill-opacity="0.20" filter="url(#b2)"/>
<rect x="175.85" y="244.90" width="12.50" height="12.60" rx="2.00" fill="#000" fill-opacity="0.72" filter="url(#b2)"/>
<rect x="191.47" y="244.90" width="12.50" height="12.60" rx="2.00" fill="#000" fill-opacity="0.66" filter="url(#b2)"/>
<rect x="207.09" y="244.90" width="12.50" height="12.60" rx="2.00" fill="#000" fill-opacity="0.78" filter="url(#b2)"/>
<rect x="128.99" y="250.50" width="12.50" height="7.00" rx="2.00" fill="#000" fill-opacity="0.06" filter="url(#b2)"/>
<rect x="144.61" y="250.50" width="12.50" height="7.00" rx="2.00" fill="#000" fill-opacity="0.06" filter="url(#b2)"/>
<rect x="160.23" y="250.50" width="12.50" height="7.00" rx="2.00" fill="#000" fill-opacity="0.10" filter="url(#b2)"/>
<rect x="175.85" y="250.50" width="12.50" height="7.00" rx="2.00" fill="#000" fill-opacity="0.75" filter="url(#b2)"/>
<rect x="191.47" y="250.50" width="12.50" height="7.00" rx="2.00" fill="#000" fill-opacity="0.72" filter="url(#b2)"/>
<rect x="207.09" y="250.50" width="12.50" height="7.00" rx="2.00" fill="#000" fill-opacity="0.85" filter="url(#b2)"/>
<rect x="133.50" y="255.20" width="3.00" height="2.80" rx="1.40" fill="#000" fill-opacity="0.85" filter="url(#b3)"/>
<rect x="114.70" y="247.40" width="2.20" height="2.00" rx="1.00" fill="#000" fill-opacity="0.35" filter="url(#b3)"/>
<rect x="114.50" y="254.50" width="2.60" height="3.00" rx="1.50" fill="#000" fill-opacity="0.30" filter="url(#b3)"/>
<rect x="122.70" y="252.70" width="3.00" height="3.00" rx="1.50" fill="#000" fill-opacity="0.20" filter="url(#b3)"/>
<rect x="227.16" y="247.00" width="13.14" height="6.00" rx="2.00" fill="#000" fill-opacity="0.30" filter="url(#b2)"/>
<rect x="242.62" y="247.00" width="13.14" height="6.00" rx="2.00" fill="#000" fill-opacity="0.25" filter="url(#b2)"/>
<rect x="258.08" y="247.00" width="13.14" height="6.00" rx="2.00" fill="#000" fill-opacity="0.55" filter="url(#b2)"/>
<rect x="273.54" y="247.00" width="13.14" height="6.00" rx="2.00" fill="#000" fill-opacity="0.05" filter="url(#b2)"/>
<rect x="289.00" y="247.00" width="13.14" height="6.00" rx="2.00" fill="#000" fill-opacity="0.40" filter="url(#b2)"/>
<rect x="319.92" y="247.00" width="13.14" height="6.00" rx="2.00" fill="#000" fill-opacity="0.25" filter="url(#b2)"/>
<rect x="350.84" y="247.00" width="13.14" height="6.00" rx="2.00" fill="#000" fill-opacity="0.35" filter="url(#b2)"/>
<rect x="227.16" y="252.25" width="13.14" height="5.50" rx="2.00" fill="#000" fill-opacity="0.70" filter="url(#b2)"/>
<rect x="242.62" y="252.25" width="13.14" height="5.50" rx="2.00" fill="#000" fill-opacity="0.45" filter="url(#b2)"/>
<rect x="258.08" y="252.25" width="13.14" height="5.50" rx="2.00" fill="#000" fill-opacity="0.90" filter="url(#b2)"/>
<rect x="273.54" y="252.25" width="13.14" height="5.50" rx="2.00" fill="#000" fill-opacity="0.30" filter="url(#b2)"/>
<rect x="289.00" y="252.25" width="13.14" height="5.50" rx="2.00" fill="#000" fill-opacity="0.55" filter="url(#b2)"/>
<rect x="304.46" y="252.25" width="13.14" height="5.50" rx="2.00" fill="#000" fill-opacity="0.12" filter="url(#b2)"/>
<rect x="319.92" y="252.25" width="13.14" height="5.50" rx="2.00" fill="#000" fill-opacity="0.70" filter="url(#b2)"/>
<rect x="335.38" y="252.25" width="13.14" height="5.50" rx="2.00" fill="#000" fill-opacity="0.04" filter="url(#b2)"/>
<rect x="350.84" y="252.25" width="13.14" height="5.50" rx="2.00" fill="#000" fill-opacity="0.75" filter="url(#b2)"/>
<rect x="366.30" y="252.25" width="13.14" height="5.50" rx="2.00" fill="#000" fill-opacity="0.08" filter="url(#b2)"/>
<rect x="97.28" y="275.40" width="13.43" height="4.20" rx="2.00" fill="#000" fill-opacity="0.30" filter="url(#b2)"/>
<rect x="112.90" y="275.40" width="13.43" height="4.20" rx="2.00" fill="#000" fill-opacity="0.38" filter="url(#b2)"/>
<rect x="128.52" y="275.40" width="13.43" height="4.20" rx="2.00" fill="#000" fill-opacity="0.28" filter="url(#b2)"/>
<rect x="144.14" y="275.40" width="13.43" height="4.20" rx="2.00" fill="#000" fill-opacity="0.32" filter="url(#b2)"/>
<rect x="159.76" y="275.40" width="13.43" height="4.20" rx="2.00" fill="#000" fill-opacity="0.42" filter="url(#b2)"/>
<rect x="175.38" y="275.40" width="13.43" height="4.20" rx="2.00" fill="#000" fill-opacity="0.40" filter="url(#b2)"/>
<rect x="191.00" y="275.40" width="13.43" height="4.20" rx="2.00" fill="#000" fill-opacity="0.58" filter="url(#b2)"/>
<rect x="206.62" y="275.40" width="13.43" height="4.20" rx="2.00" fill="#000" fill-opacity="0.62" filter="url(#b2)"/>
<rect x="120.00" y="282.10" width="3.00" height="2.40" rx="1.20" fill="#000" fill-opacity="0.80" filter="url(#b3)"/>
<rect x="153.80" y="280.60" width="2.40" height="3.40" rx="1.70" fill="#000" fill-opacity="0.70" filter="url(#b3)"/>
<rect x="227.24" y="273.90" width="12.99" height="3.40" rx="1.70" fill="#000" fill-opacity="0.78" filter="url(#b2)"/>
<rect x="242.70" y="273.90" width="12.99" height="3.40" rx="1.70" fill="#000" fill-opacity="0.75" filter="url(#b2)"/>
<rect x="258.16" y="273.90" width="12.99" height="3.40" rx="1.70" fill="#000" fill-opacity="0.80" filter="url(#b2)"/>
<rect x="273.62" y="273.90" width="12.99" height="3.40" rx="1.70" fill="#000" fill-opacity="0.72" filter="url(#b2)"/>
<rect x="289.08" y="273.90" width="12.99" height="3.40" rx="1.70" fill="#000" fill-opacity="0.78" filter="url(#b2)"/>
<rect x="304.54" y="273.90" width="12.99" height="3.40" rx="1.70" fill="#000" fill-opacity="0.45" filter="url(#b2)"/>
<rect x="320.00" y="273.90" width="12.99" height="3.40" rx="1.70" fill="#000" fill-opacity="0.82" filter="url(#b2)"/>
<rect x="335.46" y="273.90" width="12.99" height="3.40" rx="1.70" fill="#000" fill-opacity="0.05" filter="url(#b2)"/>
<rect x="350.92" y="273.90" width="12.99" height="3.40" rx="1.70" fill="#000" fill-opacity="0.85" filter="url(#b2)"/>
<rect x="366.38" y="273.90" width="12.99" height="3.40" rx="1.70" fill="#000" fill-opacity="0.10" filter="url(#b2)"/>
<rect x="97.13" y="295.70" width="13.75" height="5.00" rx="2.00" fill="#000" fill-opacity="0.30" filter="url(#b2)"/>
<rect x="112.75" y="295.70" width="13.75" height="5.00" rx="2.00" fill="#000" fill-opacity="0.40" filter="url(#b2)"/>
<rect x="128.37" y="295.70" width="13.75" height="5.00" rx="2.00" fill="#000" fill-opacity="0.30" filter="url(#b2)"/>
<rect x="143.99" y="295.70" width="13.75" height="5.00" rx="2.00" fill="#000" fill-opacity="0.35" filter="url(#b2)"/>
<rect x="159.61" y="295.70" width="13.75" height="5.00" rx="2.00" fill="#000" fill-opacity="0.50" filter="url(#b2)"/>
<rect x="175.23" y="295.70" width="13.75" height="5.00" rx="2.00" fill="#000" fill-opacity="0.32" filter="url(#b2)"/>
<rect x="190.85" y="295.70" width="13.75" height="5.00" rx="2.00" fill="#000" fill-opacity="0.38" filter="url(#b2)"/>
<rect x="206.47" y="295.70" width="13.75" height="5.00" rx="2.00" fill="#000" fill-opacity="0.42" filter="url(#b2)"/>
<rect x="227.24" y="294.80" width="12.99" height="3.60" rx="1.80" fill="#000" fill-opacity="0.50" filter="url(#b2)"/>
<rect x="242.70" y="294.80" width="12.99" height="3.60" rx="1.80" fill="#000" fill-opacity="0.50" filter="url(#b2)"/>
<rect x="258.16" y="294.80" width="12.99" height="3.60" rx="1.80" fill="#000" fill-opacity="0.55" filter="url(#b2)"/>
<rect x="273.62" y="294.80" width="12.99" height="3.60" rx="1.80" fill="#000" fill-opacity="0.50" filter="url(#b2)"/>
<rect x="289.08" y="294.80" width="12.99" height="3.60" rx="1.80" fill="#000" fill-opacity="0.52" filter="url(#b2)"/>
<rect x="304.54" y="294.80" width="12.99" height="3.60" rx="1.80" fill="#000" fill-opacity="0.15" filter="url(#b2)"/>
<rect x="320.00" y="294.80" width="12.99" height="3.60" rx="1.80" fill="#000" fill-opacity="0.52" filter="url(#b2)"/>
<rect x="335.46" y="294.80" width="12.99" height="3.60" rx="1.80" fill="#000" fill-opacity="0.12" filter="url(#b2)"/>
<rect x="350.92" y="294.80" width="12.99" height="3.60" rx="1.80" fill="#000" fill-opacity="0.48" filter="url(#b2)"/>
<rect x="366.38" y="294.80" width="12.99" height="3.60" rx="1.80" fill="#000" fill-opacity="0.20" filter="url(#b2)"/>
<rect x="227.24" y="299.50" width="12.99" height="3.00" rx="1.50" fill="#000" fill-opacity="0.20" filter="url(#b2)"/>
<rect x="242.70" y="299.50" width="12.99" height="3.00" rx="1.50" fill="#000" fill-opacity="0.20" filter="url(#b2)"/>
<rect x="258.16" y="299.50" width="12.99" height="3.00" rx="1.50" fill="#000" fill-opacity="0.22" filter="url(#b2)"/>
<rect x="273.62" y="299.50" width="12.99" height="3.00" rx="1.50" fill="#000" fill-opacity="0.20" filter="url(#b2)"/>
<rect x="289.08" y="299.50" width="12.99" height="3.00" rx="1.50" fill="#000" fill-opacity="0.20" filter="url(#b2)"/>
<rect x="304.54" y="299.50" width="12.99" height="3.00" rx="1.50" fill="#000" fill-opacity="0.08" filter="url(#b2)"/>
<rect x="320.00" y="299.50" width="12.99" height="3.00" rx="1.50" fill="#000" fill-opacity="0.15" filter="url(#b2)"/>
<rect x="335.46" y="299.50" width="12.99" height="3.00" rx="1.50" fill="#000" fill-opacity="0.06" filter="url(#b2)"/>
<rect x="350.92" y="299.50" width="12.99" height="3.00" rx="1.50" fill="#000" fill-opacity="0.18" filter="url(#b2)"/>
<rect x="366.38" y="299.50" width="12.99" height="3.00" rx="1.50" fill="#000" fill-opacity="0.12" filter="url(#b2)"/>
<rect x="96.97" y="316.70" width="14.06" height="3.00" rx="1.50" fill="#000" fill-opacity="0.30" filter="url(#b2)"/>
<rect x="112.59" y="316.70" width="14.06" height="3.00" rx="1.50" fill="#000" fill-opacity="0.30" filter="url(#b2)"/>
<rect x="128.21" y="316.70" width="14.06" height="3.00" rx="1.50" fill="#000" fill-opacity="0.30" filter="url(#b2)"/>
<rect x="143.83" y="316.70" width="14.06" height="3.00" rx="1.50" fill="#000" fill-opacity="0.30" filter="url(#b2)"/>
<rect x="159.45" y="316.70" width="14.06" height="3.00" rx="1.50" fill="#000" fill-opacity="0.30" filter="url(#b2)"/>
<rect x="175.07" y="316.70" width="14.06" height="3.00" rx="1.50" fill="#000" fill-opacity="0.30" filter="url(#b2)"/>
<rect x="190.69" y="316.70" width="14.06" height="3.00" rx="1.50" fill="#000" fill-opacity="0.30" filter="url(#b2)"/>
<rect x="206.31" y="316.70" width="14.06" height="3.00" rx="1.50" fill="#000" fill-opacity="0.30" filter="url(#b2)"/>
<rect x="96.03" y="321.50" width="15.93" height="7.00" rx="2.00" fill="#000" fill-opacity="0.95" filter="url(#b2)"/>
<rect x="111.65" y="321.50" width="15.93" height="7.00" rx="2.00" fill="#000" fill-opacity="0.95" filter="url(#b2)"/>
<rect x="127.27" y="321.50" width="15.93" height="7.00" rx="2.00" fill="#000" fill-opacity="0.95" filter="url(#b2)"/>
<rect x="142.89" y="321.50" width="15.93" height="7.00" rx="2.00" fill="#000" fill-opacity="0.95" filter="url(#b2)"/>
<rect x="158.51" y="321.50" width="15.93" height="7.00" rx="2.00" fill="#000" fill-opacity="0.95" filter="url(#b2)"/>
<rect x="174.13" y="321.50" width="15.93" height="7.00" rx="2.00" fill="#000" fill-opacity="0.95" filter="url(#b2)"/>
<rect x="189.75" y="321.50" width="15.93" height="7.00" rx="2.00" fill="#000" fill-opacity="0.95" filter="url(#b2)"/>
<rect x="205.37" y="321.50" width="15.93" height="7.00" rx="2.00" fill="#000" fill-opacity="0.95" filter="url(#b2)"/>
<rect x="226.77" y="318.10" width="13.91" height="3.00" rx="1.50" fill="#000" fill-opacity="0.40" filter="url(#b2)"/>
<rect x="242.23" y="318.10" width="13.91" height="3.00" rx="1.50" fill="#000" fill-opacity="0.35" filter="url(#b2)"/>
<rect x="257.69" y="318.10" width="13.91" height="3.00" rx="1.50" fill="#000" fill-opacity="0.45" filter="url(#b2)"/>
<rect x="273.15" y="318.10" width="13.91" height="3.00" rx="1.50" fill="#000" fill-opacity="0.25" filter="url(#b2)"/>
<rect x="288.61" y="318.10" width="13.91" height="3.00" rx="1.50" fill="#000" fill-opacity="0.35" filter="url(#b2)"/>
<rect x="304.07" y="318.10" width="13.91" height="3.00" rx="1.50" fill="#000" fill-opacity="0.35" filter="url(#b2)"/>
<rect x="319.53" y="318.10" width="13.91" height="3.00" rx="1.50" fill="#000" fill-opacity="0.45" filter="url(#b2)"/>
<rect x="334.99" y="318.10" width="13.91" height="3.00" rx="1.50" fill="#000" fill-opacity="0.30" filter="url(#b2)"/>
<rect x="350.45" y="318.10" width="13.91" height="3.00" rx="1.50" fill="#000" fill-opacity="0.50" filter="url(#b2)"/>
<rect x="365.91" y="318.10" width="13.91" height="3.00" rx="1.50" fill="#000" fill-opacity="0.25" filter="url(#b2)"/>
<rect x="225.85" y="322.50" width="15.77" height="7.00" rx="2.00" fill="#000" fill-opacity="0.95" filter="url(#b2)"/>
<rect x="241.31" y="322.50" width="15.77" height="7.00" rx="2.00" fill="#000" fill-opacity="0.95" filter="url(#b2)"/>
<rect x="256.77" y="322.50" width="15.77" height="7.00" rx="2.00" fill="#000" fill-opacity="0.97" filter="url(#b2)"/>
<rect x="272.23" y="322.50" width="15.77" height="7.00" rx="2.00" fill="#000" fill-opacity="0.90" filter="url(#b2)"/>
<rect x="287.69" y="322.50" width="15.77" height="7.00" rx="2.00" fill="#000" fill-opacity="0.95" filter="url(#b2)"/>
<rect x="303.15" y="322.50" width="15.77" height="7.00" rx="2.00" fill="#000" fill-opacity="0.95" filter="url(#b2)"/>
<rect x="318.61" y="322.50" width="15.77" height="7.00" rx="2.00" fill="#000" fill-opacity="0.97" filter="url(#b2)"/>
<rect x="334.07" y="322.50" width="15.77" height="7.00" rx="2.00" fill="#000" fill-opacity="0.92" filter="url(#b2)"/>
<rect x="349.53" y="322.50" width="15.77" height="7.00" rx="2.00" fill="#000" fill-opacity="0.97" filter="url(#b2)"/>
<rect x="364.99" y="322.50" width="15.77" height="7.00" rx="2.00" fill="#000" fill-opacity="0.97" filter="url(#b2)"/>
<rect x="349.68" y="322.50" width="15.46" height="9.00" rx="2.00" fill="#000" fill-opacity="0.60" filter="url(#b2)"/>
<rect x="365.14" y="322.00" width="15.46" height="9.00" rx="2.00" fill="#000" fill-opacity="0.60" filter="url(#b2)"/>
<rect x="97.28" y="345.60" width="13.43" height="3.20" rx="1.60" fill="#000" fill-opacity="0.85" filter="url(#b2)"/>
<rect x="112.90" y="345.60" width="13.43" height="3.20" rx="1.60" fill="#000" fill-opacity="0.82" filter="url(#b2)"/>
<rect x="128.52" y="345.60" width="13.43" height="3.20" rx="1.60" fill="#000" fill-opacity="0.85" filter="url(#b2)"/>
<rect x="144.14" y="345.60" width="13.43" height="3.20" rx="1.60" fill="#000" fill-opacity="0.75" filter="url(#b2)"/>
<rect x="159.76" y="345.60" width="13.43" height="3.20" rx="1.60" fill="#000" fill-opacity="0.04" filter="url(#b2)"/>
<rect x="175.38" y="345.60" width="13.43" height="3.20" rx="1.60" fill="#000" fill-opacity="0.05" filter="url(#b2)"/>
<rect x="191.00" y="345.60" width="13.43" height="3.20" rx="1.60" fill="#000" fill-opacity="0.03" filter="url(#b2)"/>
<rect x="206.62" y="345.60" width="13.43" height="3.20" rx="1.60" fill="#000" fill-opacity="0.03" filter="url(#b2)"/>
<rect x="97.28" y="349.00" width="13.43" height="4.00" rx="2.00" fill="#000" fill-opacity="0.18" filter="url(#b2)"/>
<rect x="112.90" y="349.00" width="13.43" height="4.00" rx="2.00" fill="#000" fill-opacity="0.15" filter="url(#b2)"/>
<rect x="128.52" y="349.00" width="13.43" height="4.00" rx="2.00" fill="#000" fill-opacity="0.18" filter="url(#b2)"/>
<rect x="144.14" y="349.00" width="13.43" height="4.00" rx="2.00" fill="#000" fill-opacity="0.12" filter="url(#b2)"/>
<rect x="273.62" y="345.10" width="12.99" height="3.00" rx="1.50" fill="#000" fill-opacity="0.55" filter="url(#b2)"/>
<rect x="304.54" y="345.10" width="12.99" height="3.00" rx="1.50" fill="#000" fill-opacity="0.55" filter="url(#b2)"/>
<rect x="320.00" y="345.10" width="12.99" height="3.00" rx="1.50" fill="#000" fill-opacity="0.10" filter="url(#b2)"/>
<rect x="335.46" y="345.10" width="12.99" height="3.00" rx="1.50" fill="#000" fill-opacity="1.00" filter="url(#b2)"/>
<rect x="366.38" y="345.10" width="12.99" height="3.00" rx="1.50" fill="#000" fill-opacity="1.00" filter="url(#b2)"/>
<rect x="334.22" y="342.50" width="15.46" height="7.00" rx="2.00" fill="#000" fill-opacity="1.00" filter="url(#b2)"/>
<rect x="334.84" y="350.10" width="14.22" height="5.00" rx="2.00" fill="#000" fill-opacity="0.95" filter="url(#b2)"/>
<rect x="334.61" y="347.50" width="14.69" height="4.00" rx="2.00" fill="#000" fill-opacity="0.85" filter="url(#b2)"/>
<rect x="365.29" y="343.70" width="15.15" height="5.20" rx="2.00" fill="#000" fill-opacity="1.00" filter="url(#b2)"/>
<rect x="366.69" y="350.90" width="12.37" height="2.60" rx="1.30" fill="#000" fill-opacity="0.70" filter="url(#b2)"/>
<rect x="98.38" y="365.60" width="11.25" height="3.60" rx="1.80" fill="#000" fill-opacity="0.55" filter="url(#b2)"/>
<rect x="114.00" y="365.60" width="11.25" height="3.60" rx="1.80" fill="#000" fill-opacity="0.92" filter="url(#b2)"/>
<rect x="129.62" y="365.60" width="11.25" height="3.60" rx="1.80" fill="#000" fill-opacity="0.92" filter="url(#b2)"/>
<rect x="145.24" y="365.90" width="11.25" height="3.60" rx="1.80" fill="#000" fill-opacity="0.60" filter="url(#b2)"/>
<rect x="160.86" y="365.60" width="11.25" height="3.60" rx="1.80" fill="#000" fill-opacity="0.92" filter="url(#b2)"/>
<rect x="176.48" y="365.60" width="11.25" height="3.60" rx="1.80" fill="#000" fill-opacity="0.88" filter="url(#b2)"/>
<rect x="192.10" y="365.90" width="11.25" height="3.60" rx="1.80" fill="#000" fill-opacity="0.45" filter="url(#b2)"/>
<rect x="207.72" y="364.40" width="11.25" height="3.60" rx="1.80" fill="#000" fill-opacity="0.92" filter="url(#b2)"/>
<rect x="227.24" y="366.40" width="12.99" height="3.80" rx="1.90" fill="#000" fill-opacity="0.35" filter="url(#b2)"/>
<rect x="242.70" y="366.40" width="12.99" height="3.80" rx="1.90" fill="#000" fill-opacity="0.90" filter="url(#b2)"/>
<rect x="258.16" y="366.40" width="12.99" height="3.80" rx="1.90" fill="#000" fill-opacity="0.95" filter="url(#b2)"/>
<rect x="273.62" y="366.40" width="12.99" height="3.80" rx="1.90" fill="#000" fill-opacity="0.30" filter="url(#b2)"/>
<rect x="289.08" y="366.40" width="12.99" height="3.80" rx="1.90" fill="#000" fill-opacity="0.82" filter="url(#b2)"/>
<rect x="304.54" y="366.40" width="12.99" height="3.80" rx="1.90" fill="#000" fill-opacity="0.45" filter="url(#b2)"/>
<rect x="320.00" y="366.40" width="12.99" height="3.80" rx="1.90" fill="#000" fill-opacity="0.62" filter="url(#b2)"/>
<rect x="335.46" y="366.40" width="12.99" height="3.80" rx="1.90" fill="#000" fill-opacity="0.30" filter="url(#b2)"/>
<rect x="350.92" y="366.40" width="12.99" height="3.80" rx="1.90" fill="#000" fill-opacity="0.75" filter="url(#b2)"/>
<rect x="366.38" y="366.40" width="12.99" height="3.80" rx="1.90" fill="#000" fill-opacity="0.10" filter="url(#b2)"/>
<rect x="96.19" y="388.60" width="15.62" height="6.40" rx="2.00" fill="#000" fill-opacity="0.90" filter="url(#b2)"/>
<rect x="111.81" y="388.60" width="15.62" height="6.40" rx="2.00" fill="#000" fill-opacity="0.90" filter="url(#b2)"/>
<rect x="127.43" y="388.60" width="15.62" height="6.40" rx="2.00" fill="#000" fill-opacity="0.90" filter="url(#b2)"/>
<rect x="143.05" y="388.60" width="15.62" height="6.40" rx="2.00" fill="#000" fill-opacity="0.90" filter="url(#b2)"/>
<rect x="158.67" y="388.60" width="15.62" height="6.40" rx="2.00" fill="#000" fill-opacity="0.90" filter="url(#b2)"/>
<rect x="174.29" y="388.60" width="15.62" height="6.40" rx="2.00" fill="#000" fill-opacity="0.90" filter="url(#b2)"/>
<rect x="189.91" y="388.60" width="15.62" height="6.40" rx="2.00" fill="#000" fill-opacity="0.90" filter="url(#b2)"/>
<rect x="205.53" y="388.60" width="15.62" height="6.40" rx="2.00" fill="#000" fill-opacity="0.90" filter="url(#b2)"/>
<rect x="226.00" y="389.60" width="15.46" height="6.40" rx="2.00" fill="#000" fill-opacity="0.90" filter="url(#b2)"/>
<rect x="241.46" y="389.60" width="15.46" height="6.40" rx="2.00" fill="#000" fill-opacity="0.90" filter="url(#b2)"/>
<rect x="256.92" y="389.60" width="15.46" height="6.40" rx="2.00" fill="#000" fill-opacity="0.90" filter="url(#b2)"/>
<rect x="272.38" y="389.60" width="15.46" height="6.40" rx="2.00" fill="#000" fill-opacity="0.90" filter="url(#b2)"/>
<rect x="287.84" y="389.60" width="15.46" height="6.40" rx="2.00" fill="#000" fill-opacity="0.90" filter="url(#b2)"/>
<rect x="303.30" y="389.60" width="15.46" height="6.40" rx="2.00" fill="#000" fill-opacity="0.90" filter="url(#b2)"/>
<rect x="318.76" y="389.60" width="15.46" height="6.40" rx="2.00" fill="#000" fill-opacity="0.90" filter="url(#b2)"/>
<rect x="334.22" y="389.60" width="15.46" height="6.40" rx="2.00" fill="#000" fill-opacity="0.88" filter="url(#b2)"/>
<rect x="349.68" y="388.60" width="15.46" height="6.40" rx="2.00" fill="#000" fill-opacity="0.92" filter="url(#b2)"/>
<rect x="367.07" y="390.70" width="11.60" height="4.60" rx="2.00" fill="#000" fill-opacity="0.90" filter="url(#b2)"/>
</g>
<path d="M399.4,316.5 L382.0,316.5" stroke="#222" stroke-width="1.4"/>
<path d="M386.0,313.4 L381.2,316.5 L386.0,319.6" stroke="#222" stroke-width="1.4" fill="none" stroke-linejoin="miter"/>
<text x="29.00" y="433.48" font-size="13" font-weight="bold" text-anchor="start" fill="#1a1a1a" stroke="#1a1a1a" stroke-width="0.28" >C</text>
<text x="88.50" y="429.23" font-size="8.7" font-weight="bold" text-anchor="start" fill="#1a1a1a" stroke="#1a1a1a" stroke-width="0.28" >LY2857785 induces significant cell death in CLL patient PBMC samples <tspan font-style="italic">ex vivo</tspan></text>
<rect x="76.2" y="440.7" width="130.40" height="118.50" fill="#fff" stroke="#5e5e5e" stroke-width="1.25"/>
<line x1="72.40" y1="549.10" x2="76.20" y2="549.10" stroke="#444" stroke-width="1" />
<text x="70.50" y="552.28" font-size="8.0" font-weight="bold" text-anchor="end" fill="#1a1a1a" stroke="#1a1a1a" stroke-width="0.28" >0</text>
<line x1="72.40" y1="529.28" x2="76.20" y2="529.28" stroke="#444" stroke-width="1" />
<text x="70.50" y="532.46" font-size="8.0" font-weight="bold" text-anchor="end" fill="#1a1a1a" stroke="#1a1a1a" stroke-width="0.28" >20</text>
<line x1="72.40" y1="509.46" x2="76.20" y2="509.46" stroke="#444" stroke-width="1" />
<text x="70.50" y="512.64" font-size="8.0" font-weight="bold" text-anchor="end" fill="#1a1a1a" stroke="#1a1a1a" stroke-width="0.28" >40</text>
<line x1="72.40" y1="489.64" x2="76.20" y2="489.64" stroke="#444" stroke-width="1" />
<text x="70.50" y="492.82" font-size="8.0" font-weight="bold" text-anchor="end" fill="#1a1a1a" stroke="#1a1a1a" stroke-width="0.28" >60</text>
<line x1="72.40" y1="469.82" x2="76.20" y2="469.82" stroke="#444" stroke-width="1" />
<text x="70.50" y="473.00" font-size="8.0" font-weight="bold" text-anchor="end" fill="#1a1a1a" stroke="#1a1a1a" stroke-width="0.28" >80</text>
<line x1="72.40" y1="450.00" x2="76.20" y2="450.00" stroke="#444" stroke-width="1" />
<text x="70.50" y="453.18" font-size="8.0" font-weight="bold" text-anchor="end" fill="#1a1a1a" stroke="#1a1a1a" stroke-width="0.28" >100</text>
<text x="80.50" y="453.90" font-size="8.6" font-weight="normal" text-anchor="start" fill="#222" stroke="#222" stroke-width="0.12" >24 hours</text>
<text transform="translate(47.00,503.80) rotate(-90)" x="0" y="3.11" font-size="8.65" font-weight="bold" text-anchor="middle" fill="#1a1a1a" stroke="#1a1a1a" stroke-width="0.28">Dead cell population (%)</text>
<line x1="76.20" y1="529.50" x2="206.60" y2="529.50" stroke="#7e7e7e" stroke-width="1" />
<path d="M77.10,544.45 L82.30,535.20 L87.50,544.45 L82.30,553.70 Z" fill="#f6fbfc" stroke="#45a84a" stroke-width="1.0"/>
<line x1="77.10" y1="544.45" x2="87.50" y2="544.45" stroke="#45a84a" stroke-width="0.9" />
<line x1="80.78" y1="537.91" x2="83.82" y2="537.91" stroke="#45a84a" stroke-width="0.9" />
<line x1="80.78" y1="550.99" x2="83.82" y2="550.99" stroke="#45a84a" stroke-width="0.9" />
<circle cx="82.30" cy="544.40" r="0.9" fill="#1a2a5a"/>
<line x1="80.80" y1="544.40" x2="83.80" y2="544.40" stroke="#1a2a6a" stroke-width="1.2" />
<path d="M87.50,534.05 L92.70,524.80 L97.90,534.05 L92.70,543.30 Z" fill="#f6fbfc" stroke="#45a84a" stroke-width="1.0"/>
<line x1="87.50" y1="534.05" x2="97.90" y2="534.05" stroke="#45a84a" stroke-width="0.9" />
<line x1="91.18" y1="527.51" x2="94.22" y2="527.51" stroke="#45a84a" stroke-width="0.9" />
<line x1="91.18" y1="540.59" x2="94.22" y2="540.59" stroke="#45a84a" stroke-width="0.9" />
<circle cx="92.70" cy="534.00" r="1.0" fill="#1a2a5a"/>
<line x1="89.00" y1="534.00" x2="96.50" y2="534.00" stroke="#1a2a6a" stroke-width="1.8" />
<path d="M97.60,541.80 L103.10,532.30 L108.60,541.80 L103.10,551.30 Z" fill="#f6fbfc" stroke="#45a84a" stroke-width="1.0"/>
<line x1="97.60" y1="541.80" x2="108.60" y2="541.80" stroke="#45a84a" stroke-width="0.9" />
<line x1="101.49" y1="535.08" x2="104.71" y2="535.08" stroke="#45a84a" stroke-width="0.9" />
<line x1="101.49" y1="548.52" x2="104.71" y2="548.52" stroke="#45a84a" stroke-width="0.9" />
<circle cx="103.10" cy="541.30" r="0.9" fill="#1a2a5a"/>
<line x1="101.30" y1="541.30" x2="104.90" y2="541.30" stroke="#1a2a6a" stroke-width="1.2" />
<path d="M109.40,543.85 L121.60,538.10 L133.80,543.85 L121.60,549.60 Z" fill="#eaf7fb" stroke="#45a84a" stroke-width="1.0"/>
<line x1="109.40" y1="543.85" x2="133.80" y2="543.85" stroke="#45a84a" stroke-width="0.9" />
<line x1="118.03" y1="539.78" x2="125.17" y2="539.78" stroke="#45a84a" stroke-width="0.9" />
<line x1="118.03" y1="547.92" x2="125.17" y2="547.92" stroke="#45a84a" stroke-width="0.9" />
<line x1="119.00" y1="538.60" x2="124.20" y2="538.60" stroke="#6a78c4" stroke-width="0.9" />
<line x1="119.00" y1="549.00" x2="124.20" y2="549.00" stroke="#6a78c4" stroke-width="0.9" />
<line x1="121.60" y1="538.60" x2="121.60" y2="549.10" stroke="#2a3a7a" stroke-width="0.9" />
<circle cx="121.60" cy="540.50" r="0.9" fill="#1a2a5a"/>
<circle cx="121.60" cy="543.50" r="0.9" fill="#1a2a5a"/>
<circle cx="121.60" cy="546.50" r="0.9" fill="#1a2a5a"/>
<path d="M134.30,506.55 L147.30,500.70 L160.30,506.55 L147.30,512.40 Z" fill="#eaf7fb" stroke="#45a84a" stroke-width="1.0"/>
<line x1="134.30" y1="506.55" x2="160.30" y2="506.55" stroke="#45a84a" stroke-width="0.9" />
<line x1="143.49" y1="502.41" x2="151.11" y2="502.41" stroke="#45a84a" stroke-width="0.9" />
<line x1="143.49" y1="510.69" x2="151.11" y2="510.69" stroke="#45a84a" stroke-width="0.9" />
<line x1="144.70" y1="495.30" x2="149.90" y2="495.30" stroke="#6a78c4" stroke-width="0.9" />
<line x1="144.70" y1="517.40" x2="149.90" y2="517.40" stroke="#6a78c4" stroke-width="0.9" />
<line x1="147.30" y1="501.20" x2="147.30" y2="511.90" stroke="#2a3a7a" stroke-width="0.9" />
<circle cx="147.30" cy="487.80" r="0.9" fill="#1a2a5a"/>
<circle cx="147.30" cy="501.50" r="1.0" fill="#1a2a5a"/>
<circle cx="147.30" cy="506.50" r="0.9" fill="#1a2a5a"/>
<circle cx="147.30" cy="511.50" r="1.0" fill="#1a2a5a"/>
<line x1="144.30" y1="495.30" x2="150.30" y2="495.30" stroke="#3a5aaa" stroke-width="0.8" />
<path d="M160.10,523.85 L173.10,517.80 L186.10,523.85 L173.10,529.90 Z" fill="#eaf7fb" stroke="#45a84a" stroke-width="1.0"/>
<line x1="160.10" y1="523.85" x2="186.10" y2="523.85" stroke="#45a84a" stroke-width="0.9" />
<line x1="169.29" y1="519.57" x2="176.91" y2="519.57" stroke="#45a84a" stroke-width="0.9" />
<line x1="169.29" y1="528.13" x2="176.91" y2="528.13" stroke="#45a84a" stroke-width="0.9" />
<line x1="170.50" y1="517.00" x2="175.70" y2="517.00" stroke="#6a78c4" stroke-width="0.9" />
<line x1="170.50" y1="531.00" x2="175.70" y2="531.00" stroke="#6a78c4" stroke-width="0.9" />
<line x1="173.10" y1="518.30" x2="173.10" y2="529.40" stroke="#2a3a7a" stroke-width="0.9" />
<circle cx="173.10" cy="518.50" r="1.0" fill="#1a2a5a"/>
<circle cx="173.10" cy="523.80" r="0.9" fill="#1a2a5a"/>
<circle cx="173.10" cy="529.00" r="1.0" fill="#1a2a5a"/>
<circle cx="173.10" cy="533.30" r="0.8" fill="#1a2a5a"/>
<path d="M186.10,534.15 L196.30,528.30 L206.50,534.15 L196.30,540.00 Z" fill="#eaf7fb" stroke="#45a84a" stroke-width="1.0"/>
<line x1="186.10" y1="534.15" x2="206.50" y2="534.15" stroke="#45a84a" stroke-width="0.9" />
<line x1="193.31" y1="530.01" x2="199.29" y2="530.01" stroke="#45a84a" stroke-width="0.9" />
<line x1="193.31" y1="538.29" x2="199.29" y2="538.29" stroke="#45a84a" stroke-width="0.9" />
<line x1="193.70" y1="528.50" x2="198.90" y2="528.50" stroke="#6a78c4" stroke-width="0.9" />
<line x1="193.70" y1="539.50" x2="198.90" y2="539.50" stroke="#6a78c4" stroke-width="0.9" />
<line x1="196.30" y1="528.80" x2="196.30" y2="539.50" stroke="#2a3a7a" stroke-width="0.9" />
<circle cx="196.30" cy="530.00" r="0.9" fill="#1a2a5a"/>
<circle cx="196.30" cy="534.00" r="0.9" fill="#1a2a5a"/>
<circle cx="196.30" cy="538.50" r="1.0" fill="#1a2a5a"/>
<text x="14.70" y="568.70" font-size="8.6" font-weight="bold" text-anchor="start" fill="#1a1a1a" stroke="#1a1a1a" stroke-width="0.28" >Conc. (µmol/L):</text>
<rect x="73.0" y="578.8" width="37.4" height="2.6" fill="#d8252b"/>
<rect x="115.0" y="578.8" width="80.4" height="2.6" fill="#d8252b"/>
<text x="90.00" y="594.10" font-size="8.6" font-weight="bold" text-anchor="middle" fill="#1a1a1a" stroke="#1a1a1a" stroke-width="0.28" >Normal</text>
<text x="90.40" y="606.30" font-size="8.6" font-weight="bold" text-anchor="middle" fill="#1a1a1a" stroke="#1a1a1a" stroke-width="0.28" >PBMC</text>
<text x="156.50" y="593.40" font-size="8.6" font-weight="bold" text-anchor="middle" fill="#1a1a1a" stroke="#1a1a1a" stroke-width="0.28" >CLL</text>
<text x="156.50" y="605.90" font-size="8.6" font-weight="bold" text-anchor="middle" fill="#1a1a1a" stroke="#1a1a1a" stroke-width="0.28" >PBMC</text>
<rect x="292.9" y="440.7" width="135.00" height="116.90" fill="#fff" stroke="#5e5e5e" stroke-width="1.25"/>
<line x1="289.60" y1="548.10" x2="292.90" y2="548.10" stroke="#444" stroke-width="1" />
<text x="287.10" y="551.28" font-size="8.0" font-weight="bold" text-anchor="end" fill="#1a1a1a" stroke="#1a1a1a" stroke-width="0.28" >0</text>
<line x1="289.60" y1="528.48" x2="292.90" y2="528.48" stroke="#444" stroke-width="1" />
<text x="287.10" y="531.66" font-size="8.0" font-weight="bold" text-anchor="end" fill="#1a1a1a" stroke="#1a1a1a" stroke-width="0.28" >20</text>
<line x1="289.60" y1="508.86" x2="292.90" y2="508.86" stroke="#444" stroke-width="1" />
<text x="287.10" y="512.04" font-size="8.0" font-weight="bold" text-anchor="end" fill="#1a1a1a" stroke="#1a1a1a" stroke-width="0.28" >40</text>
<line x1="289.60" y1="489.24" x2="292.90" y2="489.24" stroke="#444" stroke-width="1" />
<text x="287.10" y="492.42" font-size="8.0" font-weight="bold" text-anchor="end" fill="#1a1a1a" stroke="#1a1a1a" stroke-width="0.28" >60</text>
<line x1="289.60" y1="469.62" x2="292.90" y2="469.62" stroke="#444" stroke-width="1" />
<text x="287.10" y="472.80" font-size="8.0" font-weight="bold" text-anchor="end" fill="#1a1a1a" stroke="#1a1a1a" stroke-width="0.28" >80</text>
<line x1="289.60" y1="450.00" x2="292.90" y2="450.00" stroke="#444" stroke-width="1" />
<text x="287.10" y="453.18" font-size="8.0" font-weight="bold" text-anchor="end" fill="#1a1a1a" stroke="#1a1a1a" stroke-width="0.28" >100</text>
<text x="300.00" y="454.40" font-size="8.6" font-weight="normal" text-anchor="start" fill="#222" stroke="#222" stroke-width="0.12" >48 hours</text>
<text transform="translate(266.00,498.90) rotate(-90)" x="0" y="3.11" font-size="8.65" font-weight="bold" text-anchor="middle" fill="#1a1a1a" stroke="#1a1a1a" stroke-width="0.28">Dead cell population (%)</text>
<line x1="292.90" y1="520.50" x2="427.90" y2="520.50" stroke="#7e7e7e" stroke-width="1" />
<path d="M293.50,542.30 L299.30,529.20 L305.10,542.30 L299.30,555.40 Z" fill="#f6fbfc" stroke="#45a84a" stroke-width="1.0"/>
<line x1="293.50" y1="542.30" x2="305.10" y2="542.30" stroke="#45a84a" stroke-width="0.9" />
<line x1="297.60" y1="533.04" x2="301.00" y2="533.04" stroke="#45a84a" stroke-width="0.9" />
<line x1="297.60" y1="551.56" x2="301.00" y2="551.56" stroke="#45a84a" stroke-width="0.9" />
<line x1="295.30" y1="541.90" x2="303.80" y2="541.90" stroke="#1c2a70" stroke-width="1.8" />
<path d="M304.10,514.35 L309.90,501.40 L315.70,514.35 L309.90,527.30 Z" fill="#f6fbfc" stroke="#45a84a" stroke-width="1.0"/>
<line x1="304.10" y1="514.35" x2="315.70" y2="514.35" stroke="#45a84a" stroke-width="0.9" />
<line x1="308.20" y1="505.19" x2="311.60" y2="505.19" stroke="#45a84a" stroke-width="0.9" />
<line x1="308.20" y1="523.51" x2="311.60" y2="523.51" stroke="#45a84a" stroke-width="0.9" />
<line x1="307.30" y1="510.00" x2="312.50" y2="510.00" stroke="#6a78c4" stroke-width="0.9" />
<line x1="307.30" y1="518.50" x2="312.50" y2="518.50" stroke="#6a78c4" stroke-width="0.9" />
<line x1="306.50" y1="514.30" x2="313.30" y2="514.30" stroke="#1c2a70" stroke-width="1.2" />
<line x1="309.90" y1="510.50" x2="309.90" y2="518.00" stroke="#1c2a70" stroke-width="1.2" />
<path d="M315.20,526.55 L321.00,513.70 L326.80,526.55 L321.00,539.40 Z" fill="#f6fbfc" stroke="#45a84a" stroke-width="1.0"/>
<line x1="315.20" y1="526.55" x2="326.80" y2="526.55" stroke="#45a84a" stroke-width="0.9" />
<line x1="319.30" y1="517.46" x2="322.70" y2="517.46" stroke="#45a84a" stroke-width="0.9" />
<line x1="319.30" y1="535.64" x2="322.70" y2="535.64" stroke="#45a84a" stroke-width="0.9" />
<line x1="316.80" y1="526.30" x2="325.20" y2="526.30" stroke="#1c2a70" stroke-width="1.8" />
<path d="M326.30,540.40 L339.60,532.00 L352.90,540.40 L339.60,548.80 Z" fill="#eaf7fb" stroke="#45a84a" stroke-width="1.0"/>
<line x1="326.30" y1="540.40" x2="352.90" y2="540.40" stroke="#45a84a" stroke-width="0.9" />
<line x1="335.70" y1="534.46" x2="343.50" y2="534.46" stroke="#45a84a" stroke-width="0.9" />
<line x1="335.70" y1="546.34" x2="343.50" y2="546.34" stroke="#45a84a" stroke-width="0.9" />
<line x1="339.60" y1="532.50" x2="339.60" y2="548.30" stroke="#2a3a7a" stroke-width="0.9" />
<circle cx="339.60" cy="538.50" r="1.1" fill="#1a2a5a"/>
<circle cx="339.60" cy="541.50" r="1.1" fill="#1a2a5a"/>
<path d="M353.10,490.35 L366.60,482.60 L380.10,490.35 L366.60,498.10 Z" fill="#eaf7fb" stroke="#45a84a" stroke-width="1.0"/>
<line x1="353.10" y1="490.35" x2="380.10" y2="490.35" stroke="#45a84a" stroke-width="0.9" />
<line x1="362.65" y1="484.87" x2="370.55" y2="484.87" stroke="#45a84a" stroke-width="0.9" />
<line x1="362.65" y1="495.83" x2="370.55" y2="495.83" stroke="#45a84a" stroke-width="0.9" />
<line x1="366.60" y1="477.30" x2="366.60" y2="503.40" stroke="#5a68b8" stroke-width="0.7" />
<line x1="364.00" y1="477.30" x2="369.20" y2="477.30" stroke="#6a78c4" stroke-width="0.9" />
<line x1="364.00" y1="503.40" x2="369.20" y2="503.40" stroke="#6a78c4" stroke-width="0.9" />
<line x1="366.60" y1="483.10" x2="366.60" y2="497.60" stroke="#2a3a7a" stroke-width="0.9" />
<circle cx="366.60" cy="487.00" r="0.9" fill="#1a2a5a"/>
<circle cx="366.60" cy="494.00" r="0.9" fill="#1a2a5a"/>
<circle cx="366.60" cy="510.30" r="0.8" fill="#1a2a5a"/>
<path d="M379.60,513.75 L393.40,505.70 L407.20,513.75 L393.40,521.80 Z" fill="#eaf7fb" stroke="#45a84a" stroke-width="1.0"/>
<line x1="379.60" y1="513.75" x2="407.20" y2="513.75" stroke="#45a84a" stroke-width="0.9" />
<line x1="389.36" y1="508.06" x2="397.44" y2="508.06" stroke="#45a84a" stroke-width="0.9" />
<line x1="389.36" y1="519.44" x2="397.44" y2="519.44" stroke="#45a84a" stroke-width="0.9" />
<line x1="390.80" y1="503.40" x2="396.00" y2="503.40" stroke="#6a78c4" stroke-width="0.9" />
<line x1="390.80" y1="523.50" x2="396.00" y2="523.50" stroke="#6a78c4" stroke-width="0.9" />
<line x1="393.40" y1="506.20" x2="393.40" y2="521.30" stroke="#2a3a7a" stroke-width="0.9" />
<circle cx="393.40" cy="508.00" r="0.9" fill="#1a2a5a"/>
<circle cx="393.40" cy="512.00" r="0.9" fill="#1a2a5a"/>
<circle cx="393.40" cy="519.50" r="0.9" fill="#1a2a5a"/>
<circle cx="393.40" cy="499.70" r="0.8" fill="#1a2a5a"/>
<path d="M408.00,527.20 L418.10,518.20 L428.20,527.20 L418.10,536.20 Z" fill="#eaf7fb" stroke="#45a84a" stroke-width="1.0"/>
<line x1="408.00" y1="527.20" x2="428.20" y2="527.20" stroke="#45a84a" stroke-width="0.9" />
<line x1="415.14" y1="520.84" x2="421.06" y2="520.84" stroke="#45a84a" stroke-width="0.9" />
<line x1="415.14" y1="533.56" x2="421.06" y2="533.56" stroke="#45a84a" stroke-width="0.9" />
<line x1="418.10" y1="515.40" x2="418.10" y2="538.50" stroke="#5a68b8" stroke-width="0.7" />
<line x1="415.50" y1="515.40" x2="420.70" y2="515.40" stroke="#6a78c4" stroke-width="0.9" />
<line x1="415.50" y1="538.50" x2="420.70" y2="538.50" stroke="#6a78c4" stroke-width="0.9" />
<line x1="418.10" y1="518.70" x2="418.10" y2="535.70" stroke="#2a3a7a" stroke-width="0.9" />
<circle cx="418.10" cy="520.00" r="0.9" fill="#1a2a5a"/>
<circle cx="418.10" cy="531.00" r="1.0" fill="#1a2a5a"/>
<circle cx="418.10" cy="533.50" r="1.0" fill="#1a2a5a"/>
<circle cx="418.10" cy="510.30" r="0.8" fill="#1a2a5a"/>
<text x="233.00" y="568.50" font-size="8.6" font-weight="bold" text-anchor="start" fill="#1a1a1a" stroke="#1a1a1a" stroke-width="0.28" >Conc. (µmol/L):</text>
<rect x="292.4" y="577.8" width="37.4" height="2.6" fill="#d8252b"/>
<rect x="335.0" y="577.8" width="80.1" height="2.6" fill="#d8252b"/>
<text x="309.70" y="593.10" font-size="8.6" font-weight="bold" text-anchor="middle" fill="#1a1a1a" stroke="#1a1a1a" stroke-width="0.28" >Normal</text>
<text x="309.50" y="605.90" font-size="8.6" font-weight="bold" text-anchor="middle" fill="#1a1a1a" stroke="#1a1a1a" stroke-width="0.28" >PBMC</text>
<text x="377.20" y="592.30" font-size="8.6" font-weight="bold" text-anchor="middle" fill="#1a1a1a" stroke="#1a1a1a" stroke-width="0.28" >CLL</text>
<text x="379.50" y="604.90" font-size="8.6" font-weight="bold" text-anchor="middle" fill="#1a1a1a" stroke="#1a1a1a" stroke-width="0.28" >PBMC</text>
<text transform="translate(78.10,574.50) rotate(-42)" x="0" y="2.90" font-size="8.1" font-weight="bold" text-anchor="middle" fill="#1a1a1a" stroke="#1a1a1a" stroke-width="0.28">0</text>
<text transform="translate(91.60,571.50) rotate(-42)" x="0" y="2.90" font-size="8.1" font-weight="bold" text-anchor="middle" fill="#1a1a1a" stroke="#1a1a1a" stroke-width="0.28">0.32</text>
<text transform="translate(107.60,570.80) rotate(-42)" x="0" y="2.90" font-size="8.1" font-weight="bold" text-anchor="middle" fill="#1a1a1a" stroke="#1a1a1a" stroke-width="0.28">0.12</text>
<text transform="translate(126.60,574.20) rotate(-42)" x="0" y="2.90" font-size="8.1" font-weight="bold" text-anchor="middle" fill="#1a1a1a" stroke="#1a1a1a" stroke-width="0.28">0</text>
<text transform="translate(147.30,571.40) rotate(-42)" x="0" y="2.90" font-size="8.1" font-weight="bold" text-anchor="middle" fill="#1a1a1a" stroke="#1a1a1a" stroke-width="0.28">0.32</text>
<text transform="translate(166.60,571.40) rotate(-42)" x="0" y="2.90" font-size="8.1" font-weight="bold" text-anchor="middle" fill="#1a1a1a" stroke="#1a1a1a" stroke-width="0.28">0.12</text>
<text transform="translate(185.40,571.40) rotate(-42)" x="0" y="2.90" font-size="8.1" font-weight="bold" text-anchor="middle" fill="#1a1a1a" stroke="#1a1a1a" stroke-width="0.28">0.05</text>
<text transform="translate(297.50,572.70) rotate(-42)" x="0" y="2.90" font-size="8.1" font-weight="bold" text-anchor="middle" fill="#1a1a1a" stroke="#1a1a1a" stroke-width="0.28">0</text>
<text transform="translate(311.60,569.50) rotate(-42)" x="0" y="2.90" font-size="8.1" font-weight="bold" text-anchor="middle" fill="#1a1a1a" stroke="#1a1a1a" stroke-width="0.28">0.32</text>
<text transform="translate(327.10,569.10) rotate(-42)" x="0" y="2.90" font-size="8.1" font-weight="bold" text-anchor="middle" fill="#1a1a1a" stroke="#1a1a1a" stroke-width="0.28">0.12</text>
<text transform="translate(346.50,572.30) rotate(-42)" x="0" y="2.90" font-size="8.1" font-weight="bold" text-anchor="middle" fill="#1a1a1a" stroke="#1a1a1a" stroke-width="0.28">0</text>
<text transform="translate(366.90,569.70) rotate(-42)" x="0" y="2.90" font-size="8.1" font-weight="bold" text-anchor="middle" fill="#1a1a1a" stroke="#1a1a1a" stroke-width="0.28">0.32</text>
<text transform="translate(385.40,569.70) rotate(-42)" x="0" y="2.90" font-size="8.1" font-weight="bold" text-anchor="middle" fill="#1a1a1a" stroke="#1a1a1a" stroke-width="0.28">0.12</text>
<text transform="translate(403.80,569.70) rotate(-42)" x="0" y="2.90" font-size="8.1" font-weight="bold" text-anchor="middle" fill="#1a1a1a" stroke="#1a1a1a" stroke-width="0.28">0.05</text>
<rect x="518" y="0" width="1" height="621" fill="#dadada"/>
<rect x="519" y="0" width="1" height="621" fill="#9a9a9a"/>
<rect x="0" y="618" width="520" height="1" fill="#ececec"/>
<rect x="0" y="619" width="520" height="2" fill="#9c9c9c"/>
<rect x="0" y="0" width="520" height="1" fill="#767676"/>
<rect x="0" y="0" width="1" height="621" fill="#767676"/>
</svg></body></html>
